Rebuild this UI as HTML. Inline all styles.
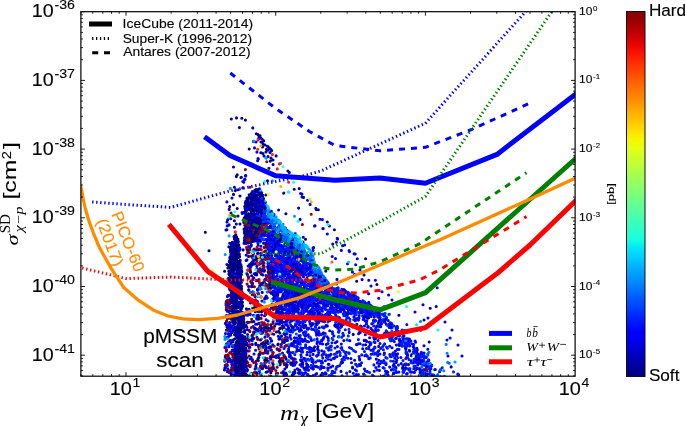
<!DOCTYPE html><html><head><meta charset="utf-8"><style>html,body{margin:0;padding:0;background:#fff;width:685px;height:426px;overflow:hidden}svg{display:block;will-change:transform}text{font-family:"Liberation Sans",sans-serif;stroke:#000;stroke-width:0.12px;paint-order:stroke}text[style*="Serif"]{stroke:none}</style></head><body>
<svg width="685" height="426" viewBox="0 0 685 426">
<defs><clipPath id="pc"><rect x="80.9" y="11.7" width="494.20000000000005" height="364.5"/></clipPath>
<linearGradient id="jet" x1="0" y1="1" x2="0" y2="0">
<stop offset="0%" stop-color="#000080"/>
<stop offset="2.5%" stop-color="#00009b"/>
<stop offset="5%" stop-color="#0000b6"/>
<stop offset="7.5%" stop-color="#0000d6"/>
<stop offset="10%" stop-color="#0000f1"/>
<stop offset="12.5%" stop-color="#0001ff"/>
<stop offset="15%" stop-color="#0019ff"/>
<stop offset="17.5%" stop-color="#0031ff"/>
<stop offset="20%" stop-color="#004dff"/>
<stop offset="22.5%" stop-color="#0064ff"/>
<stop offset="25%" stop-color="#0081ff"/>
<stop offset="27.5%" stop-color="#0099ff"/>
<stop offset="30%" stop-color="#00b1ff"/>
<stop offset="32.5%" stop-color="#00cdff"/>
<stop offset="35%" stop-color="#00e5f8"/>
<stop offset="37.5%" stop-color="#16ffe1"/>
<stop offset="40%" stop-color="#29ffce"/>
<stop offset="42.5%" stop-color="#3cffba"/>
<stop offset="45%" stop-color="#53ffa4"/>
<stop offset="47.5%" stop-color="#66ff90"/>
<stop offset="50%" stop-color="#7dff7a"/>
<stop offset="52.5%" stop-color="#90ff66"/>
<stop offset="55%" stop-color="#a4ff53"/>
<stop offset="57.5%" stop-color="#baff3c"/>
<stop offset="60%" stop-color="#ceff29"/>
<stop offset="62.5%" stop-color="#e4ff13"/>
<stop offset="65%" stop-color="#f8f500"/>
<stop offset="67.5%" stop-color="#ffde00"/>
<stop offset="70%" stop-color="#ffc400"/>
<stop offset="72.5%" stop-color="#ffae00"/>
<stop offset="75%" stop-color="#ff9400"/>
<stop offset="77.5%" stop-color="#ff7e00"/>
<stop offset="80%" stop-color="#ff6800"/>
<stop offset="82.5%" stop-color="#ff4e00"/>
<stop offset="85%" stop-color="#ff3800"/>
<stop offset="87.5%" stop-color="#ff1e00"/>
<stop offset="90%" stop-color="#f10800"/>
<stop offset="92.5%" stop-color="#d60000"/>
<stop offset="95%" stop-color="#b60000"/>
<stop offset="97.5%" stop-color="#9b0000"/>
<stop offset="100%" stop-color="#800000"/>
</linearGradient></defs>
<g clip-path="url(#pc)">
<g stroke-width="3.1" stroke-linecap="round" fill="none"><path d="M231.3 119h0m5.2-1.1h0m5.3 .4h0m3.6 1.8h0m-6 7.4h0m13.4 .4h0m3.5 5.9h0m1.7 .7h0m1 2.5h0m1.1-1.1h0m.7 2.1h0m1.2 1h0m1.7 1.8h0m-2.7 1.2h0m1.5 5h0m.5-3.3h0m.2 .5h0m1.8 .8h0m2.5 1.3h0m.4 .2h0m-18.7 2.5h0m11.6 3.8h0m.3-.1h0m4.9-.7h0m.5-2.7h0m1.5 .7h0m1.3-2.1h0m.7 4.6h0m.7-3.2h0m1 1.3h0m-13.7 7.9h0m.3 .5h0m4.7-5.5h0m1 2.5h0m4 .5h0m3 1.5h0m5.1-2.1h0m-5.8 5.2h0m2.7-1.1h0m.1 4.6h0m-39.6 2.4h0m35.4 1.2h0m19 2.8h0m-51.6 5.6h0m.9-1.9h0m8.5 .9h0m43.6-3.2h0m-48.3 5.1h0m.4-.2h0m2.4 4.9h0m.9-2.8h0m22.8 1.4h0m-33.1 6.5h0m8.4 .6h0m.1-.1h0m56.3 .8h0m-65.7 5.8h0m1.8-3.8h0m2.9-.9h0m45.5 3.5h0m.1-.2h0m10.4-3.7h0m7.7 4.8h0m-69.9 3.9h0m8-2h0m25.9-1h0m36.1 2h0m1.5 .4h0m-73.8 9.2h0m3.8-1.9h0m-4.3 4.7h0m8-.9h0m61.4-.4h0m17.2 .3h0m.5 1.2h0m2 .1h0m-87.3 3.3h0m7 3h0m47.9-2.2h0m-58.9 8.2h0m7.4-1.3h0m1.9 3.3h0m3.7 0h0m60.1-4.6h0m27.2 2.6h0m-101.3 8h0m.9-.3h0m7.5-2.5h0m80.2-1.2h0m14.8 0h0m5 3.7h0m-129.1 2.6h0m28.7 4.3h0m2.3 1.9h0m101.3 .6h0m-107.9 4.1h0m4.7 1.8h0m79.2 2.6h0m29-1.9h0m-133.6 5.1h0m156.6 8h0m-1.6 16.2h0m12.9 9.5h0m7.1 22.4h0m52.2-.4h0m-37.3 8.7h0m30.3 26.8h0m28.7 32.1h0" stroke="#00009b"/>
<path d="M258.7 138.7h0m-5.3 2.7h0m2.6 .6h0m-1.5 5.9h0m2.4 4.2h0m.7 8.7h0m-12 15.1h0m-2.8 5.6h0m2.1-2.1h0m55.7 14.1h0m7 6.7h0m-80.7 1.7h0m83.2 2.5h0m12.3 15.2h0m-7.4 6.2h0m7.9 2.8h0m.3 0h0m4.1 5.4h0m-24 3.3h0m33.1 4.9h0m.8-3.8h0m-4.5 5.7h0m11.9 .9h0m-3.3 5.4h0m7.8 .2h0m.4 1h0m4.6 2.3h0m1.1 .1h0m-23 2.5h0m3.3 2.1h0m21.8 .2h0m-9.8 5h0m8.2 1h0m-3.3 7.2h0m7.6-2h0m-23 9.4h0m31.8 .8h0m6.6 0h0m-4.4 5.8h0m66.2 1.8h0m-68.6 6h0m13.4-2.1h0m6.6 3.3h0m-19.8 7.4h0m9.9-4.1h0m13.3 1.7h0m31 4.8h0m-8 7.2h0m13 6h0m17 4h0m7 8h0m-5 10h0m11 5h0m-10 11h0m14 0h0" stroke="#0000f1"/>
<path d="M253.8 141.3h0m12 16.7h0m.3 .3h0m14.7 4.9h0m-8.4 17.6h0m-42.1 7.6h0m58.4 3.6h0m5.8 24.3h0m160.5 145.7h0" stroke="#0099ff"/>
<path d="M258 139.9h0m-.3 9.4h0m14.7 5.3h0m7 9.3h0m-2.1 5h0m11.3 13.4h0m-53.3 49.6h0" stroke="#ff1e00"/>
<path d="M260.8 145.8h0m20 40.7h0m30.4 15.3h0m-81.5 13.6h0" stroke="#ffae00"/>
<path d="M266.8 161.8h0m-21.4 7.8h0m4.5 17.6h0m61.3 27.1h0m-8.8 10.2h0" stroke="#9b0000"/>
<path d="M283 166.8h0m-48.2 44.9h0" stroke="#53ffa4"/>
<path d="M264.6 181.5h0m28.9 .8h0m-4.9 9.8h0m-60.2 26.3h0m69.7 2.8h0m30 3.6h0m78.5 81.7h0m31.4 23.5h0" stroke="#16ffe1"/>
<path d="M268.2 194.6h0m-55.7 76.4h0m185.9 20.7h0" stroke="#e4ff13"/>
<path d="M309.7 198.9h0" stroke="#a4ff53"/>
<path d="M305.5 239.3h0m20.3 31.8h0m104.4 37.2h0" stroke="#000080"/>
<path d="M331.9 262.1h0" stroke="#ff6800"/>
<path d="M295.3 233.3h0m125.2 88.2h0m25.7 22.9h0m.9 8.9h0m.6 9.1h0m-3.9 8.3h0" stroke="#0081ff"/>
<path d="M278.6 210h0m34.4 38.1h0m41.5 26.3h0m-18 9.6h0m113.6 54h0m-40.7 1h0m5.7 2.1h0m.4 1.1h0m12.3 7h0m-3.8 3.9h0m15.6 18.7h0m18.5 2.8h0m.5 .2h0" stroke="#0001ff"/>
<path d="M320 219.2h0m-7 31.4h0m43.7 30.7h0m5.4-1.7h0m61.9 40.4h0m0 25.8h0m27.2 21.1h0m-10.8 2.8h0" stroke="#0000b6"/>
<path d="M416.6 324.7h0" stroke="#00e5f8"/>
<path d="M388.3 314.6h0" stroke="#29ffce"/>
<path d="M348.6 262h0" stroke="#00cdff"/>
<path d="M428.9 352.3h0m20.4 11h0m-4.3 13.7h0" stroke="#0064ff"/>
<path d="M389.3 314.2h0m8.1 12.3h0m9.4-1.9h0m-4.7 5.5h0m18.7 0h0m21.4 37.6h0m16.2 7.9h0" stroke="#0019ff"/>
<path d="M427.7 354.1h0m.2 1.2h0m12.2 15.3h0m4 5.8h0" stroke="#004dff"/>
<path d="M385.1 313.3h0m68.4 58.6h0" stroke="#0031ff"/>
<path d="M404.5 330.5h0" stroke="#0000d6"/>
<path d="M267.6 227.5h0m-.7 6.6h0m.9 .3h0m.1-1.2h0m6 2.4h0m2.7 .7h0m-6.2 4.1h0m.1-2.6h0m.9 .9h0m3 .4h0m.7-.1h0m-6.6 5.2h0m1.4 4.4h0m2.1-5.4h0m1.3 5.6h0m.3-4.7h0m1.8-.6h0m.4 1.6h0m2.7-1.3h0m.3 4.1h0m.3 .5h0m2-1.9h0m2.1 1.1h0m-12.1 4.8h0m1.4-2.6h0m.9 .7h0m.7-1.2h0m.4 .1h0m.5 1.2h0m2.7 1h0m4-2h0m1.3 3.5h0m.3-3.2h0m.6 4.4h0m1.5-1.6h0m.1 .2h0m.4 .2h0m.1 1.1h0m1.6-1.3h0m.1-.7h0m.1 2.4h0m.2 .3h0m.1-5.9h0m1.2 2.2h0m.8 2.9h0m-22.4 4.7h0m10.5 .2h0m2-.2h0m2.1-3.5h0m1.2-.2h0m3.7 3.2h0m2.2-.6h0m.7-1h0m2.3 2.8h0m1-.9h0m1.8-.1h0m3-1.4h0m-30.3 4h0m6.9 4.9h0m.4-2h0m1.2-1.1h0m.6 .8h0m3.4-.1h0m.1 .1h0m.9 1.4h0m.8 1.9h0m1-5.4h0m.6 4.9h0m2-5h0m2.2 5.2h0m3.5-3.8h0m1.3-1.1h0m.9 4.5h0m.9-4.7h0m1.5 3.2h0m3.4 .1h0m.2-.5h0m-31.1 5.6h0m2.9-.8h0m.2-1h0m.4-.8h0m3.9 4.1h0m4.8 .2h0m3.3-.5h0m.9-3.2h0m.1-.2h0m.2 4.6h0m1.5-3.9h0m1.2 4h0m2.7-4.5h0m3.6 1.3h0m7.5 1.3h0m1.3-2.4h0m1.3 2.3h0m2.2-2.3h0m.5 2.6h0m.6-.8h0m2.9-.4h0m-36.4 7.5h0m5.8-.3h0m2.2 .1h0m2.9-1h0m.4-1.6h0m3.3 2.6h0m1.1-1.7h0m3.5 2.9h0m.4-2.5h0m1-1h0m.4-.9h0m4 4h0m.8 0h0m0-2.9h0m.7-.2h0m2.3 1.1h0m.8-2.4h0m1.3 .9h0m2 3.3h0m1.4-3.9h0m2.5 2.7h0m1.1-.1h0m-42.8 5.2h0m.4-1.5h0m3.7 3h0m.7 .8h0m.8-2h0m1.6-1.6h0m.9-.4h0m.7 5.1h0m.8-4.4h0m.1 3h0m.5-1.5h0m1.7 .3h0m1.2-1.2h0m5.8 1.7h0m0-2.9h0m1.1 1.4h0m.8 0h0m.2 1.4h0m.9 .4h0m1.4-2.1h0m1.1 3.4h0m1-4.9h0m1.9 4.8h0m1.8-3.2h0m1.2 .6h0m1.6 3h0m4.1-.3h0m4.8-.9h0m.1-1.7h0m-38.2 4.4h0m2.6 1.6h0m3.1 1.6h0m1.7-3.5h0m1 4.6h0m1.8-1.5h0m2.1 .2h0m2.1 1.6h0m.2 .2h0m2.7 0h0m0-3.8h0m.6 .6h0m4.4 2.2h0m.2-1.7h0m0-2.8h0m2.2 0h0m2.1 3.6h0m2 .8h0m3.5-2.8h0m11.7 .8h0m.6-.8h0m18.9 3.4h0m8.9-.3h0m-70.9 3.8h0m.2-.6h0m1.2 1.9h0m1.1-3.5h0m1.5 .6h0m2.2-.6h0m.8-.7h0m.8 .7h0m1.7 3.2h0m2.9-.1h0m.3-3.7h0m.3 2.3h0m1.5-.1h0m.4 2.3h0m.8 .8h0m4-1.6h0m1.9-.5h0m.6-2.9h0m1.3 1.5h0m.6 1.4h0m1.3 1.1h0m.4-1.4h0m1-.2h0m.9-2.1h0m2.6 2.3h0m8.2 .7h0m3.1-2.3h0m7 .6h0m1.3 .4h0m14.4-2.2h0m.3 1.7h0m.5-.6h0m.3-.9h0m.8 3h0m2.4-3.3h0m1.7 1.6h0m2.3-1.1h0m1.1 5.1h0m6.6-.5h0m-78.4 2.9h0m1.2-2h0m2.4 3.7h0m.6-1.1h0m.5 1.9h0m1.4-.7h0m.6 1.8h0m0-.6h0m2.7-1.2h0m1-2h0m.4-1.7h0m1.3 1.6h0m.3 1h0m.1 3h0m3.1-5.2h0m.7 4.6h0m3.4-3h0m0 2.8h0m2-2.7h0m1.7 2.7h0m2.7 .1h0m1.8-3h0m.7 1.4h0m2.3 .5h0m0-2.3h0m1.8 3.8h0m2.3-2.4h0m1-1.4h0m2.9-.7h0m4 4.7h0m.5-5h0m.4 5.2h0m2-3.8h0m0-1.2h0m.8 .2h0m1.5 .8h0m4.3 2.4h0m1.3-2.4h0m.4 3h0m.9-4.3h0m1.7 1.8h0m1.5 .3h0m1.6 .9h0m2.3 .9h0m1.5-4.4h0m.2 3.3h0m.2-.1h0m.9-1.8h0m1.2 2.8h0m.9-.1h0m1.6-2h0m3.6 1.8h0m1.9-1.7h0m1.4-1.4h0m1.5 2h0m1.8-1.7h0m.5-.4h0m.5 4.1h0m.1-3.2h0m3.1 3.8h0m.2-.2h0m1-.3h0m.4-.6h0m-83 5.8h0m1.5 .2h0m1.3-3.6h0m.4 1.7h0m.1 1.4h0m2 1.3h0m.3-5h0m6.4 2.3h0m1.5 2.5h0m5.2 .1h0m1.8-2h0m1-2.2h0m.2 .4h0m1.2 .2h0m2.3-1h0m1.3 3.8h0m1.7-3h0m.8 4.6h0m.2-4.6h0m2.6 .8h0m1.2-.1h0m.8 .6h0m4.7-1.2h0m.2 3.9h0m.2-2.3h0m8.9 1.2h0m.1-2.8h0m6.9 2.8h0m1.1 .3h0m3-4.2h0m.2 2h0m.8-2.2h0m.1 4.3h0m1.8-3.9h0m.2 1.1h0m.7 3.3h0m8.9-3.3h0m2.5-1h0m1.1 4.4h0m.6-.2h0m.7-.3h0m.3-2.4h0m2.7-1.4h0m2 2.6h0m.7-.7h0m3.3 2.3h0m.2 1h0m.3-.4h0m2.9-5.3h0m1 4.4h0m1.8-3.2h0m-89.6 7.2h0m7.3-1.7h0m.8 3.2h0m.6-3h0m.3 3.3h0m.2 1.1h0m.8-4.2h0m.6 3h0m.1-1.6h0m2.7-1.8h0m1 .2h0m.1 .3h0m.7-1h0m1.3 2.1h0m.4 .9h0m1.7 .3h0m.9-3.4h0m5.1 3.2h0m7.5-1.2h0m.2 2.9h0m1.9 .6h0m1.1-2h0m5.7 1.4h0m7.2-.7h0m.5-.2h0m.1-2.3h0m3.7 .5h0m2.4-.9h0m.3-.6h0m.1 1.6h0m1.2 2.9h0m2-3.7h0m6.9 1.3h0m11.6-2.6h0m12 .8h0m.3 1.2h0m3 1.3h0m.6 2.2h0m6.2-1.7h0m.8-2.1h0m1.2 2.8h0m-99.3 3.9h0m3.4-.6h0m.3 .9h0m1.9 2.7h0m1.6-4.2h0m.6 2.9h0m5.2 .4h0m.7-4.5h0m3.9 .9h0m.3 2h0m.1-.3h0m.1 .5h0m4.4 .8h0m2.6-1.8h0m.6-1.8h0m.1 3.3h0m3.9-1.3h0m3-1.9h0m2.2 4.5h0m1.5-.8h0m7.5-1.4h0m2.1-1.9h0m4.2 .3h0m24.2 4.2h0m1.8-1.7h0m1.4 1h0m.7-4.6h0m4.5 2h0m3.1-.3h0m4.3-.7h0m.5-1.2h0m1.9 5.1h0m6.7-2.9h0m4.6-1.7h0m-102.5 10.9h0m.3-4.7h0m12.4 3.9h0m7-3.9h0m1.1 4.9h0m2.6-.9h0m10.6-1.2h0m.5-1.1h0m6.8 3.3h0m33.2-2.6h0m7.7 1.6h0m15.6-1h0m1.1-.8h0m5.1 .1h0m7.3 1.5h0m2.8 1h0m-111.5 5.9h0m.8-2.2h0m1.5-.4h0m12.2 1.2h0m4.7-3.5h0m9.6 1.7h0m2.5 3.1h0m13.5-1.8h0m19.5 1.6h0m15.3-.6h0m11.2-.4h0m2.6-1.1h0m12.8-2.4h0m8 4.3h0m-114.2 2.3h0m2.3 3.4h0m7.3-.1h0m11.3-2.3h0m3 1.4h0m2.2 2h0m6.1 0h0m2-5.5h0m6.1 .2h0m18 1.6h0m31.2-.9h0m12.2 .3h0m7.7-1.4h0m3.5 2.2h0m1.5-1.2h0m3.6 3.9h0m.6 .3h0m-101.7 1h0m1 1.5h0m2-1.6h0m12.2 4.1h0m9.3 1h0m17.5-3.8h0m16.3 3.2h0m5.5-3.6h0m25.1 .5h0m8.9-1.5h0m1.1 3h0m1.5 0h0m1-1.6h0m3.9 .7h0m1.3 3.3h0m.5-5.1h0m2.8 4.2h0m-118 2h0m3.4 3.5h0m.6 1.2h0m12.1-.4h0m1.7 .1h0m1.1 .7h0m1-2.4h0m.9 2.2h0m3-1.5h0m.6 .5h0m.3 .7h0m60.3-3.9h0m0 4.3h0m11-4.4h0m23.5 .5h0m2.9 3.2h0m.3-.1h0m.9 .1h0m-124.5 2.6h0m8.5-1.1h0m5.6 3.2h0m3.2-2.4h0m8.1 2.6h0m19-2.9h0m6.6 5h0m21-1.3h0m9.6-1.6h0m16.3 2.7h0m15.3-4.7h0m5.4 3.4h0m.4-1h0m2.6-2.4h0m2.7 1.1h0m-123.3 9.4h0m.2-3.9h0m8.2 2.5h0m.2-1.4h0m.3 3.1h0m1.2-4.6h0m1.3 .6h0m2.9 .4h0m18.4-2h0m1.6 1.9h0m2.9 .6h0m16.7-1.5h0m3.2 .3h0m3.7 1.7h0m21.7-1.2h0m7.4 1.5h0m29 2.4h0m1.9-3.6h0m.6 2.9h0m1.5-4.4h0m2.2 .4h0m7.4-.8h0m-126.2 7.3h0m2-1.2h0m.3 2h0m1.5 2.7h0m3.7-3.3h0m10.8 2.3h0m9.5 .7h0m.4-3.7h0m67.7 3.6h0m7.6 .8h0m1.3-.2h0m11.1-.8h0m1.6 .9h0m.1-3.7h0m-109.5 5.3h0m4.9-1.2h0m27.9 2.4h0m12.3 1.8h0m33.7-1.7h0m6.9 1.8h0m26.6 .1h0m4.2-1.9h0m-122 3.6h0m6.2 2.8h0m1.6-1.4h0m2.7-.9h0m7.7-.3h0m12.7 1.5h0m1.6 0h0m18.9 1h0m.3-1.5h0m66.4 0h0m13-1.2h0" stroke="#0000f1"/>
<path d="M266 221.7h0m2.5 1.4h0m1.1-.6h0m.5 5.1h0m2.8 .8h0m.1-2.2h0m.4 4.2h0m-.7 1.1h0m1.5 .3h0m5 2h0m.1 1.6h0m-11.4 4.5h0m4.5 1.3h0m3.8-1.3h0m.5-2.7h0m2.6 2.1h0m1.7 2.4h0m3.1-1.2h0m1.3 1.7h0m.1-.4h0m.9-1.5h0m-14.7 8.4h0m2.3-5.4h0m10 2.3h0m.9-1.6h0m2.2 4.6h0m.7-1.5h0m.9-4h0m2.5 1.8h0m.3 4h0m.8-3h0m-16.1 4.1h0m1.1-.9h0m5.7 4.3h0m8.1-4h0m.8 4.9h0m1-.7h0m.3-1.7h0m.1-.8h0m1-.2h0m1.1 .5h0m1.3-2.1h0m2 1.2h0m3.7 4.2h0m-27.1 1.4h0m3.9-.9h0m3 .6h0m.9 3.4h0m2.2-.1h0m2.6 .9h0m.3 .5h0m5.3-1.5h0m4.7-2.6h0m2.3-1h0m2.2 3.6h0m.5-3.6h0m1.8 3.1h0m.2-2.4h0m.3 4.2h0m-36.5 5.2h0m21.9 .2h0m11.5-4.2h0m1.7 3.1h0m1.6-2.8h0m.8 3.3h0m.7-1.3h0m3.4 1.6h0m1.3 1.5h0m1.6-3.1h0m-24.3 8.4h0m.3-2.8h0m19.8 0h0m.9 1.4h0m4.2-2.1h0m1.2-.7h0m-44.9 5.5h0m11.3 3.2h0m1.6-1.7h0m4.6 2h0m10.7-3.9h0m9.7 1.1h0m5.6 .5h0m3.2-1.5h0m.8 3.4h0m.8 .1h0m.1 1.2h0m2.7-1.8h0m.6 1.8h0m2.3 1h0m-51.2 .7h0m3.8 5h0m2.1-1.3h0m17-3.7h0m.5 3.7h0m4.6-3.3h0m.1-.1h0m14.9-.6h0m1 1.4h0m.4-1.5h0m.4 4.2h0m2.7-1.9h0m1 2.8h0m.2-.9h0m.3 .2h0m.7-1.8h0m.4-.2h0m.6 2.9h0m.4-2.2h0m1.2 1h0m.6-2.7h0m.5 2.3h0m.3 .3h0m0-1h0m-52.6 5.7h0m4.3 .9h0m4.2 1h0m4-4.1h0m7 4.2h0m13.4-.6h0m10.3 .5h0m1-4h0m1.8 1.4h0m.5 3.4h0m.7-3.7h0m2 .7h0m.5-.7h0m.2 .1h0m1 .8h0m1.3 2.6h0m.2-.4h0m0-4h0m.6 4.9h0m1.5-.4h0m.2-3.1h0m1-.7h0m1.1 2.6h0m1.4 .6h0m-58.1 4h0m1.9-.3h0m16-.7h0m3.1 1.7h0m.7-.6h0m25 .9h0m.9-.2h0m.1-2.6h0m2 .4h0m.9 2.2h0m1.1 .7h0m2-.9h0m.6-2.8h0m.7 2.9h0m2.3-3.2h0m.3 .3h0m.5 4.5h0m9.5 .5h0m5.1-4.1h0m.7 1.3h0m3.5 1h0m3.5 1h0m-82 2.9h0m7.9 2.5h0m8.6 1h0m20.7-3.7h0m4 3.8h0m13.5 .2h0m.1-3.6h0m.5-.7h0m.4 3.5h0m.1-1.8h0m.8 1.5h0m.2-1.4h0m8.7 1.5h0m.1-1.6h0m.1-2.1h0m.6 3.8h0m1.3-2.8h0m.1-.1h0m1.6 1.4h0m1.9 2.6h0m.7-3h0m.9-1.3h0m2 4.4h0m.9-4.5h0m1.3 3.6h0m3.9-3.4h0m3.5-1h0m1.9 5h0m4.3 .2h0m-79.4 4.4h0m1.3-.6h0m4 1.8h0m13.7-3.8h0m.8-1.4h0m.9 2.2h0m2.7-1.7h0m17 2.9h0m.9-3.4h0m5 4.7h0m.6-4.6h0m9.1 3.2h0m1.2-3.5h0m.4 4h0m.5-.7h0m.5-1.6h0m.1 2.9h0m3.3-3.3h0m.8-.1h0m1.2 1.6h0m3 .3h0m.3-.5h0m2 3.1h0m4.4-4.4h0m1.4 3.7h0m.6-5h0m3.4 3.1h0m1.3 .6h0m3.2-1.3h0m3.4 .5h0m-89.4 6.7h0m7.3-1.8h0m17.9-.5h0m13.5-.4h0m4.8 4.8h0m2.7-4.7h0m17.4 3.9h0m4.7-.8h0m3.9-3.8h0m1.7 2.6h0m.9-.3h0m1.4 .9h0m2.5-3h0m1.8 3h0m6.1-1.5h0m8.4 3.4h0m1 .5h0m2.9-.8h0m-83.7 1.4h0m24.8 .6h0m.4 .8h0m1.8 .2h0m4.9-1.9h0m2.3 3.2h0m6.9-1.3h0m1.1 .5h0m10.7 1.6h0m8.9-1h0m19.7-2.6h0m4.8 3.7h0m.1 .5h0m2.8-2.3h0m-99.7 5.5h0m10.1-1.7h0m22 1.2h0m9.2-.5h0m7.6 .6h0m6.6 .8h0m24.2-1.2h0m7.1 .2h0m4.8 2.2h0m9.4 1h0m4.9 .4h0m-103 5.5h0m2.8-2.9h0m.2 3.5h0m14.7-3.5h0m8 1.9h0m1.8-1h0m21.8 2.8h0m10.2-2.9h0m24.6 2.6h0m5-5h0m16 5.7h0m-94.2 2.8h0m9.8 1.5h0m14.6-1.6h0m7.4 3h0m16.1-2.5h0m43.6 2.9h0m4.4-.8h0m6.5-1.4h0m-83.3 5.5h0m2.2-2.1h0m11.3-.3h0m14.1 .2h0m23.9 3h0m35.3 2.1h0m-112.3 1.3h0m11.5 1.1h0m21.1 .5h0m57-2.6h0m-94.2 11.3h0m6.6-4.9h0m33.8 4.5h0m10.3-3.1h0m33.1 .8h0m.1-2.7h0m34.3 3h0m2-2.9h0m10.3 4.7h0m3.9-1h0m-114.7 5.1h0m2.8 1.4h0m10.6 1.4h0m5.1-4.8h0m14.3 1.5h0m28.4-1.7h0m15.4 4.9h0m1.4-4.6h0m3.6 2.8h0m20.2 1.8h0m3.3-3.2h0m10 3.2h0m-133.4 .8h0m61.7 3.5h0m3.2-2.9h0m30.4-.8h0m6.8 5.2h0m17.1 0h0m3.9-2.3h0m8.6-1.6h0m6.1 2h0m2 1.3h0m1.1-3h0m0 .6h0m-133.5 7.3h0m17.2 1.6h0m7.9 .1h0m33.3-3.7h0m37.2-1.2h0m1.6-.2h0m.4 1.3h0m7.1 1h0m3.6 2.3h0m3.9-2h0m10.7-1.8h0m.1 3.7h0m9.1-.2h0m-111.8 3.4h0m10.8-1.6h0m2.9 0h0m40.2-.5h0m13.5 2.4h0m32.9-.1h0m9.3 .2h0m14.1 0h0" stroke="#0031ff"/>
<path d="M265.6 217.5h0m.1-.6h0m.2 1.4h0m2.7-.5h0m.4 .7h0m.5 2.8h0m1.6 3h0m.9 .5h0m.5-2h0m-2 3.3h0m5.2 2.8h0m2.2-1.5h0m1.6 2.8h0m1.8-.4h0m-8.9 2h0m5.8 4h0m.7-2.5h0m1.4 3h0m1.4-1.9h0m.2 .8h0m.4-3.5h0m.7 1.3h0m1.9 3.1h0m.7 .7h0m4.7-1.2h0m-8.5 1.9h0m.1 3.9h0m0-1h0m1.6-1.6h0m1.8 3.8h0m1.2-5.3h0m5.9 3.7h0m.2-.9h0m-6.4 3.9h0m4-.1h0m2.6 3.4h0m.2 .7h0m.2-3.1h0m.3 1.8h0m.4 1.6h0m1.1 .3h0m2.7-3.9h0m-20.8 9.5h0m2.7-2.5h0m14.8-.1h0m1.6-2.5h0m2.1 2.1h0m2 1.6h0m2.3-.2h0m0 1h0m3.9-.5h0m2.4 6h0m1.3 0h0m-17 6h0m17.9-1.8h0m2.4 2.8h0m-23.2 6h0m21.7-2.2h0m3.3-2.5h0m4.2 5.6h0m1.2-.2h0m-7 .6h0m2.2 2.1h0m2.5-.8h0m.3-1.1h0m.2-.2h0m.8 2.6h0m1 2.4h0m1.6-3.6h0m1 4.1h0m.4-.4h0m.1-2h0m-3.4 7h0m.5-3.3h0m.4-1.1h0m.2 5.1h0m.3-2.7h0m4.1-1.4h0m2.4 2.5h0m.4 1h0m-58.1 1.6h0m49.3 .6h0m4.1 .5h0m3.4 1h0m5.8 6.4h0m.8 1.5h0m10.2-2.1h0m-57 9.8h0m25-5.5h0m15.5-.3h0m.5 .9h0m-20.7 9.4h0m5.3 .2h0m59.9 .7h0m-76.5 1.7h0m21.2 0h0m54.5 2h0m-88.9 5.1h0m67 4.1h0m-63.6 10.6h0m37.5-4.3h0m68.2 3.7h0m-95.6 2.8h0m28.6 .7h0m64.6 3.5h0m-75.2 1.7h0m89.5 2.4h0m-74.2 4.5h0m1.6 3.1h0m92.7 15.1h0m5.4 2.4h0m-123.7 1.9h0" stroke="#004dff"/>
<path d="M260.7 191.3h0m10.7 20.1h0m-2.5 3.3h0m4.7 1.5h0m-.4 5.1h0m-4 6.7h0m4.6-2.7h0m.8 .9h0m10.9 1.9h0m-18.6 6.2h0m.2 .2h0m.9 1.2h0m2.2-1.7h0m4.2-.4h0m1.6 1.3h0m7.9-2.5h0m.5 2.5h0m3.5-3.4h0m2.3 3.8h0m-17.4 4.3h0m1.5 1.4h0m18.3 1.7h0m.2-1.9h0m10.2 1.2h0m-35.7 4.5h0m4.6 0h0m19.7 .8h0m0-2.9h0m-23.8 4.6h0m1 1h0m4.2 .4h0m.6-.2h0m1.8 3.9h0m4.7-2.4h0m8.2-.7h0m7.4 3.3h0m1.2-.9h0m-27.9 5.6h0m3.5 .1h0m4.3-3.5h0m1.4 3.7h0m.8-2.9h0m6 4.5h0m3.9-4.3h0m5.7 1.2h0m2-2.5h0m-23.6 9.4h0m3.4 1.4h0m1.5 .4h0m3.6-5h0m8.5 4.2h0m1.6 .1h0m3-.2h0m-25 6h0m.1 .9h0m.1-2.8h0m2.4 2.4h0m3.5 .3h0m3.8-.1h0m1.6-.6h0m.4-3.1h0m1.5 .7h0m.3-1.9h0m17.9 4.4h0m4.3 0h0m-34.9 6.3h0m2.6-3.8h0m7.8-.6h0m.1-.2h0m1.3 2.8h0m5 1.4h0m1.5-3.7h0m20.5 .4h0m1.6 1.6h0m3.5 3h0m3.4-4.1h0m-40.6 7.2h0m5.6 2h0m3.1 .2h0m20-3.2h0m6.3 1.8h0m-34 6.7h0m13.8 1h0m2.1-3.4h0m10 .3h0m.9 3.4h0m7.6-3.4h0m18.9-.5h0m5.8 3.2h0m-60.1 3.5h0m13.5 2.9h0m.7 .1h0m5.5-3.8h0m8.9 2.8h0m15.4-1.3h0m1.3 2h0m5.8-4.2h0m5.9 1.3h0m.3-.2h0m8.8 .7h0m-43.3 8.4h0m2.4-.1h0m2.1 .6h0m1.1-1.7h0m2.2-3.1h0m1.9-.6h0m16.3 1.6h0m7.2 2.4h0m9.1-1.5h0m-63.6 9h0m43-1h0m6.6-4.1h0m8.6 2.8h0m11.8 .2h0m3.5-3.6h0m2.7 1.7h0m3 2h0m1.9 .9h0m2.4-4.8h0m-80.8 11.1h0m15-4.6h0m25.7 5.1h0m14.3-4.1h0m11 3.9h0m.8-5h0m11.8-.3h0m13.1 .9h0m1.6 3h0m-95.6 5h0m3.9-.5h0m3.7-1.6h0m31.5 2.2h0m51.2-3.1h0m-87.6 7.5h0m2.5-.4h0m21 3.2h0m17.1-4.1h0m19 5.2h0m19.1-.4h0m16 .1h0m4 .6h0m-92.8 2.3h0m5.4-1.6h0m8.2 2.7h0m17.8-2.4h0m81.8 4.6h0m-5.4 6.1h0m12.2 .3h0m-42.2 5.9h0m8.8-5.5h0m34.1 1.1h0m-109.3 10.1h0m110.2-.2h0m7.5-2h0m-32.5 4.8h0m8.3 1.1h0m3 1.7h0m25.6-2.2h0m-128 5.6h0m123.9 1.9h0m-114.5 3.5h0m14 2.1h0m35.9 1.3h0m-58.7 5.9h0m121.7-3.8h0m-54.6 7.7h0" stroke="#00009b"/>
<path d="M266.1 223.3h0m.4 .5h0m0-1.9h0m-.4 4.5h0m.5 1.1h0m-.4 6.9h0m1.5-1.6h0m.8-.2h0m.5 1.5h0m1.2-2.6h0m3 3.4h0m-7 4.5h0m.7 .6h0m.1 1.1h0m2-.2h0m.1-.9h0m.7 2.5h0m.6-3.4h0m1.3 .4h0m.4-.4h0m1 1.6h0m1.2-2.1h0m.6-.7h0m3.3 4.8h0m1.1-.1h0m-10.6 4.6h0m1.1-.6h0m.6-3h0m3 2.2h0m1.9-.5h0m.4-.1h0m1.1-1.4h0m1.5 4.4h0m.1-2.3h0m3.5 1h0m.9 1h0m2.5-4.8h0m3.5 3.1h0m2.1 2.5h0m2.8-.7h0m-25.8 4.2h0m.1 .9h0m.4-1.8h0m.8-1.9h0m.4 4h0m1.2-2.4h0m1.5 .7h0m.4-1.1h0m3.2 .5h0m2.3-.4h0m.8 3h0m1.1-3.7h0m.9 2.2h0m1-.4h0m.2 .8h0m.3-1.7h0m.8 0h0m.3-.1h0m.2 1.9h0m.7-2.9h0m1.2 3.5h0m.4-2.4h0m1.1 .5h0m.4 2.3h0m.8-.7h0m.6 .5h0m2.8-.5h0m7.8 1.7h0m-32.2 3.3h0m1.1-2.6h0m2.1 3.2h0m.6 2.1h0m.3-3.2h0m.4-2h0m1.9 4.1h0m2.8 .9h0m.4 .4h0m.2-.1h0m2.3-3.8h0m.6-.6h0m2.2 1.2h0m0 3.1h0m1.5-5.6h0m.9 3.8h0m1.3-.7h0m1.6 1.9h0m.6-1.4h0m2.1-.4h0m.8 2.1h0m2.8-2.9h0m.5-2.2h0m.5 1.2h0m5.1 2.9h0m.1 .7h0m0 .2h0m-32.2 3.2h0m.5 2.8h0m2.7-.5h0m.1-.3h0m.8-3.5h0m.8 2.1h0m0-.4h0m.5 1.9h0m.1-3.4h0m2.2 2.1h0m0-2.5h0m2 1.6h0m.5 .4h0m2 .9h0m1.3 .6h0m2.5-2.1h0m1.8 .3h0m.7 1.1h0m2.7-.8h0m1.4 2.7h0m1.2-2.7h0m.2 1h0m.3 .5h0m.4 .6h0m.2-4.1h0m.2 4.8h0m.1-5.3h0m0 4.3h0m1.3-4.1h0m.5-.3h0m.6 3.4h0m.4 0h0m.4 2.2h0m.6-3.5h0m2.2 3.4h0m1-.6h0m0-.4h0m1.4 .5h0m.5 .7h0m1.7-3.8h0m.2 2.3h0m.2-.1h0m.1-3.4h0m.1 2.7h0m1.8 1.4h0m.6 1h0m1.6-3.1h0m-40.2 3.6h0m.6 4.9h0m.1-4.3h0m.6 4.7h0m.2-4.5h0m1.1 2.2h0m.7-1.5h0m.3 1.5h0m.2-.1h0m2.2 1h0m1.6-3.5h0m.1 4.6h0m.2-2.6h0m.4-2.2h0m0-.3h0m.1 2.3h0m.1 2h0m1-.9h0m.2-.1h0m.8 .7h0m1.2-3.6h0m1.2 1.6h0m1.3-1.1h0m0-1.3h0m.8 1h0m.2 1.9h0m2.4 1.3h0m.5 1.6h0m.2-3.8h0m0-.3h0m.9 .6h0m3.3 .5h0m3.6-.7h0m.1 .5h0m.6 .9h0m.4-1.1h0m1.2 1.5h0m.2-3.5h0m.8 .9h0m.3 4.6h0m.1-4.3h0m0 3.2h0m.5-.6h0m.8-2.5h0m.7 0h0m2.3 3.5h0m2.6-1h0m.3-2.1h0m.1-.9h0m.5 1.4h0m.1-.5h0m4.3-.7h0m1.2 4.1h0m-42.6 2.2h0m2.1 4.2h0m2.2-4.3h0m0 3.4h0m.6-1.3h0m.3-.2h0m1.7 .7h0m1.4 1.5h0m0-2.9h0m3.3 .2h0m.4 .1h0m1.3 2.6h0m0-3.4h0m1.3 .3h0m1.3-1.1h0m3 4.4h0m.3-1.5h0m.3-.2h0m1.5 .1h0m1.8 .4h0m.4-1.2h0m.9-1.6h0m0 1.4h0m.5 1.1h0m1.6-.5h0m.7 1.9h0m.1-.1h0m1-2.1h0m.8 .4h0m.2 .2h0m.4-2.1h0m.1 3h0m.8-4.4h0m3.3 .2h0m3.7 .9h0m3.1 1.5h0m1.4 1.6h0m-40.4 5.2h0m1.8 .7h0m.8-3h0m.1-1.7h0m.5 1h0m1.4 3.3h0m2.9-3h0m.5-1.3h0m1.2 .7h0m.3 .6h0m2.2 1.8h0m.3-1.8h0m.1 1h0m.3-1.5h0m3.7 4h0m.2 .9h0m.7-4.6h0m.3 2.6h0m.3 1.6h0m.1 .1h0m1-2.9h0m.6 0h0m1.5-.4h0m2 2h0m.1 1h0m3.2-4.7h0m.7 .1h0m.4 3.7h0m.8-3.9h0m4.9 2.9h0m.2 .3h0m0 1.7h0m2-2.7h0m.1-.6h0m.5-1.2h0m2.3 4.4h0m1.2-3.6h0m1.1 .2h0m.2 2.5h0m.7-1.5h0m.1 .9h0m.5-.9h0m.5-.6h0m.3 3.7h0m.2-1h0m2-1h0m2.1-1.5h0m-46.6 6.1h0m3-.9h0m1.2 0h0m.5 .8h0m2.8-2.4h0m.3 .2h0m.5 4.7h0m.8-1.2h0m.7-.3h0m.8 .2h0m3.9-2.7h0m.3 4h0m1.7-4.3h0m.3-.3h0m1.3 5.3h0m.5-.9h0m1.3-3.8h0m.8 1.9h0m.9 2.9h0m.7-3.9h0m0-1.6h0m1.8 5.2h0m.1-1.2h0m1.7 1.4h0m2.1-.1h0m2-.1h0m0-4.2h0m.4 3.8h0m.6-.5h0m.4-.7h0m.8 1.4h0m2.9 .7h0m1.3-2.1h0m.7-3.5h0m.2 4h0m2.4 0h0m1.6 1.6h0m1.3-4.6h0m.6 4h0m.2-.6h0m1.5-2.7h0m.2-1.9h0m4.3 3.2h0m1.1 .2h0m5.5-1.1h0m.9 3.4h0m1.8-.3h0m7-1.8h0m1.5 1h0m.5-2h0m0 2.8h0m-65.3 .9h0m1.5 4.4h0m1.1-4.3h0m1.1 4h0m.4 .1h0m2-3.7h0m4.8 1.8h0m1.1 2.6h0m0-3.2h0m.3-2h0m.1 4.7h0m1.3-.9h0m0-1.8h0m.8 1.1h0m1 .7h0m.4-2h0m2.3-1.8h0m.3 4.5h0m.5-1.5h0m.8 2.6h0m2.5-4.1h0m.6-.6h0m.7 4.4h0m1.4-.1h0m1-4.2h0m1.7 4h0m0-.3h0m.3-4h0m.4 4.3h0m.6-2.3h0m2.5-.4h0m1.1-.1h0m1.4 3.4h0m1.5-1.8h0m2-1.4h0m.3-.4h0m1.9 2.9h0m.2-4.8h0m.2 .9h0m1.5 .6h0m.2 3.6h0m.3-3.7h0m.2-.9h0m.2-.4h0m.2 4.7h0m.6-1.4h0m.9-1.7h0m1.3 1.2h0m1.5-1h0m1.5-.7h0m3.7 .5h0m.2 1.2h0m2.6-3.1h0m4.4 5h0m1.9 .9h0m.5-2.2h0m1.9 .2h0m.4-.7h0m1.3-1.3h0m.1 1.5h0m.4 1.2h0m1-1h0m.2-3.6h0m0 1.5h0m1.2 3.3h0m.3-2.5h0m.1-.2h0m1.1 2.6h0m1-3.3h0m1.4 4.5h0m3-2.5h0m.3-1.8h0m1.7 3.4h0m.4-1.7h0m1.5 .9h0m3.5 1.5h0m-82.6 2.5h0m4.4 3.4h0m1.2-2.8h0m0 2.2h0m1-.4h0m.6-2.9h0m1 3.1h0m2.5-.2h0m1.4-2.5h0m.5 .7h0m.3 1.7h0m4.4-.6h0m0 1.2h0m2.6-3.2h0m1.7-.1h0m1.5-.5h0m.9-.7h0m2 4.7h0m.3 .5h0m.2-5.2h0m.1 5.3h0m1-2.9h0m.5-.8h0m.7 2.1h0m1.1-2.4h0m.7-1.6h0m.7 4.7h0m1-.2h0m.3 .6h0m1.1-1h0m1-1.3h0m1.3-1.4h0m1.2 3.7h0m.3-3.1h0m.6 .3h0m0 1.9h0m3.5-2h0m1.5 .2h0m.3-.5h0m.2 1.5h0m2-.9h0m.5-.7h0m1.6 3.4h0m.6-2.1h0m3.3 .1h0m2-1.6h0m.4 1h0m1.7 2.8h0m1.6-4.3h0m.3 2.3h0m.3 .3h0m1-2.1h0m.3-.7h0m1.3-.2h0m.3 2.4h0m1.1 .4h0m.7-.9h0m.2 2.4h0m1 .6h0m1.1-1.1h0m1.1-4h0m.1 3.3h0m1.2 1.5h0m.6-5.6h0m.1 3.7h0m0-2.1h0m.2 3.8h0m.5-3.1h0m.3-1.4h0m.5-.7h0m1 .8h0m0 .3h0m2 1.9h0m1.1-1.4h0m.3 2.1h0m1.8-2.5h0m.1 1.1h0m.5 3h0m.9 0h0m1.8-.2h0m1.5-4.6h0m1.4 2h0m3.3 1.4h0m.2-3h0m1.4 3.8h0m.9 1.1h0m1.6-.5h0m0 .3h0m.7-2h0m-85.3 8.2h0m1.9-3.2h0m1.1-2.6h0m.1 1h0m.6 2.1h0m.3 1.1h0m6.3-2.5h0m.6 .5h0m0-2.2h0m1.2 1.6h0m2.3 1.9h0m0-3.5h0m.9 3.6h0m.5-1.5h0m.6 2h0m.5 .6h0m.2-3.2h0m1.8 2.1h0m.2 1.3h0m2.1-3.5h0m0 2h0m.6-2h0m.8-.5h0m.8 .3h0m.1-.9h0m1.1 1.5h0m1.1 3.6h0m1-3.8h0m.5-.2h0m1.4 .1h0m1.2 3.4h0m1.6-3h0m1.2-2.1h0m1.1 2.4h0m1.5 3.1h0m.7-4.3h0m.2 1.7h0m2.4-1h0m1.7-1.4h0m1.3 4.5h0m.3-1.7h0m.9 2.3h0m3.1-4.1h0m.1 3h0m0-.3h0m.1-4.1h0m0 1.8h0m.1 1.5h0m.9-1.2h0m.5 2.6h0m1.8-1.9h0m.9-2.8h0m.2 2.6h0m.5-2.3h0m2 5.6h0m.5-1.4h0m.5-2.7h0m.1-.5h0m.2-1h0m2.5 .8h0m.2 3.8h0m1.8-2.6h0m1.1-.4h0m0-1.6h0m.1 .2h0m.5 2.5h0m.2-1.8h0m2.3 4.5h0m1.6-.5h0m3.2-4.5h0m1.1 4.3h0m0-4.5h0m1.1 3.5h0m.4 1.7h0m.4-5h0m.2 1.8h0m.2-2.2h0m.1 1.4h0m.8 1.4h0m2.5-.6h0m1.3-2.5h0m.9 .5h0m.4 .5h0m.1 .4h0m2.1 4h0m0-3.9h0m.3-.7h0m.5 .9h0m.3-.8h0m.2 2.2h0m.3-3.1h0m0 2.4h0m.9-.9h0m1.4 2.8h0m.4 .8h0m1.2 .7h0m.2-5.7h0m1.2 1.3h0m1 2.5h0m2-2.1h0m4.2 3.2h0m0-.4h0m.7 1.2h0m4.1-.1h0m-99 2.8h0m1 0h0m.6 1.1h0m.2-.9h0m1.1 3.1h0m1.6-.7h0m.3-2.7h0m.9-1.3h0m.6 2.9h0m1.3-3.6h0m1.6 3.8h0m.8 1.3h0m5.2-3.5h0m.7-1.5h0m1.2 1.3h0m.9 3.8h0m3.2-3.6h0m2.7 1.6h0m3.1-3.4h0m2 2h0m.2-1h0m.3 .7h0m2.4 1.2h0m.2 .3h0m1.6 .6h0m0 .9h0m.4-3h0m.3-1.1h0m1.6 2.1h0m.1-1.3h0m.2 4.2h0m.6-4.7h0m1.4 3.2h0m1.2-3.9h0m.7 0h0m.2 .6h0m.5 .4h0m.5 3.6h0m1.4-1.9h0m2.7-3.1h0m.2 2.2h0m3.1-1.9h0m.9 5h0m1.6-1.6h0m.8-.8h0m.1 2.6h0m.9-.5h0m1.4-2.1h0m2.6 .6h0m.2-3.3h0m6.7 2.3h0m3.3-1.3h0m3.8 1.7h0m2.6-1.7h0m.5-.7h0m.6 1.2h0m1.7 1.7h0m1.1-2.9h0m.2 4.2h0m1.2-4.7h0m4.3 3.3h0m.6-1.7h0m.3-.9h0m.7 2.9h0m.2-1.1h0m0-.9h0m1.5 1.1h0m1.2-2.7h0m.6 5.4h0m.2-2.5h0m.6-1.4h0m.5 .8h0m.1-1.7h0m1.2 4.2h0m.8-2.1h0m.3 1.5h0m1.7-1.4h0m.5 .8h0m.2 .3h0m.2 1h0m3.4-4.3h0m.9 .5h0m.3 3.9h0m.1-3.1h0m1.7 1.2h0m.8 .7h0m-98.9 3.4h0m.3 4.3h0m.5-4.2h0m.9 2.4h0m.5-1.8h0m1-1.9h0m4 5.7h0m2.2-2.3h0m1.7 1.1h0m.9-.9h0m2.1 .5h0m3.1-2.5h0m.2 3.7h0m1.2-1.6h0m1.5-3.8h0m2.6 1.5h0m1 1.6h0m2.2-.1h0m.2-1.5h0m2.3-1.4h0m.7 .8h0m.1-.1h0m1.8 2.9h0m2.5-.2h0m2-1.6h0m2.5-1.5h0m1.5 4.8h0m.7 .5h0m.2-.9h0m5-4.8h0m.6 3.2h0m2-1.6h0m.5-1.2h0m.8 3.5h0m.3-1.6h0m.7 3.3h0m.3-1.9h0m6.1 .2h0m9.4-3.2h0m2.7 2h0m5.4-.9h0m.2 0h0m.2 .5h0m2.4 1.4h0m2-.9h0m.2 .2h0m3.8-2.1h0m.5 3.6h0m.8-.8h0m1.3 2.1h0m.3-4.5h0m1.2 4.5h0m1.7-5.6h0m.3 1.3h0m0 1.1h0m6.8 3h0m2.2-3.6h0m1.2-1.8h0m.7 5.1h0m6.5-2h0m2 2.3h0m-106.4 .5h0m2.1 5.9h0m3.6-1.4h0m2.4-3.1h0m6 2.5h0m3.3-.4h0m.3-2.9h0m.3 .9h0m3.6 1.7h0m1.2-3.1h0m5 .2h0m.5 2.5h0m1 2.4h0m1.8-2.4h0m2.4 3h0m8.8-5.3h0m2 4.6h0m11.7-1.7h0m0-3.2h0m.1 4.7h0m1.2-2.3h0m4-1.8h0m6.3 1.9h0m3.6 3.2h0m13.5-3.1h0m1.7 2.7h0m3.6-2.8h0m6.6-1.1h0m5.5-.7h0m1.1 .3h0m5.5 .4h0m1.2 .8h0m-109.5 4.1h0m6.3-.1h0m1.3 2.6h0m1 1.3h0m.1-.9h0m6.6-2.9h0m5.9 5.3h0m5.2-4.5h0m3.1 .8h0m20.7 2.7h0m5.3-3.8h0m1.5 2.5h0m1.2-3h0m19.8 5h0m10.7-4.2h0m1.5 2h0m2.5 .3h0m.9-2.3h0m11.2 3.7h0m2.3-4.7h0m7.6 .7h0m.7 3h0m-113.7 2.6h0m3.2 4.2h0m3-.8h0m.2-2.1h0m.7 4h0m5.6-1h0m3.4 0h0m4-3.9h0m1.2 2.1h0m.2-2.9h0m11.1 1.8h0m.5-1.1h0m2.2-.5h0m4 5.4h0m4-2.1h0m1 1.5h0m5.6-2.4h0m4.7 1h0m20.1-3.2h0m11 4.1h0m4.1-.2h0m1.8 1h0m8.1-3.7h0m1-1.7h0m1.2 2.5h0m5 .8h0m1.8-.6h0m5.8-1.7h0m1 1.8h0m4.5-.2h0m2.4 3.1h0m-118.8 1.5h0m2.5 4.6h0m1.7-1.5h0m.8 .2h0m2.1-2.8h0m2.4 .3h0m1.2-.4h0m1 2.4h0m3.2-1.9h0m2.7-1.4h0m3.4 1.9h0m3-1.3h0m6 1h0m2.6 2h0m1.6-2.6h0m.9 3.1h0m.4-4.5h0m5 4h0m7.4-.8h0m1.6-1.1h0m4.3 2.5h0m8.2-3.6h0m.3 .3h0m6.6 3.8h0m.5 .1h0m1.4-.9h0m5.9-3.4h0m2.5 1h0m2.7 .9h0m.9 2.5h0m.3-.2h0m4.4-2h0m3.1-2.1h0m1.9 3h0m14.3-1.9h0m6.7 3.1h0m.8 0h0m1.5-4.5h0m.9 .7h0m.2 .6h0m.7 1.5h0m1.6-2.4h0m.4 3.9h0m.3 .3h0m.6-4.5h0m.4-.3h0m1 1.6h0m1.5-.5h0m2.7 3.5h0m-127.5 1.2h0m2.5 3.1h0m.1-3.8h0m.5 1.2h0m7.2 .8h0m.9-.3h0m3.4 .9h0m1.1 1.5h0m1.1-1h0m5.9 .3h0m1.8 .5h0m4.2-2.2h0m7 3.9h0m6.8-.6h0m.5-1.5h0m2-2.3h0m.2-.3h0m6.1 .6h0m25.3 2.2h0m6.1-2.1h0m2.2 3.6h0m2.5-1.2h0m1.2-2.1h0m17.3 .8h0m4.3-2.8h0m1.7 4.2h0m7.7-2.6h0m3.7-.9h0m.3 .3h0m4.2 1.2h0m.1 2.6h0m-125.3 1.2h0m.5 2.1h0m.3 3.2h0m11.5-1.5h0m1.7-2.9h0m4.7 .4h0m3.5-.8h0m2.2 2.9h0m3.6 1.7h0m2-3.6h0m3.6 2.4h0m1.2-1.1h0m.6-2.1h0m1.9 3.1h0m2.7 .5h0m2.2-.9h0m6.1 2.2h0m2.3-5.1h0m19.8 5h0m8.3-.2h0m3.7-2h0m6.6-2.2h0m.1 3.5h0m2.1-1.6h0m9.9 .5h0m4.1-1.2h0m1.5-2.2h0m10.8 2.3h0m.2-.7h0m1.1 2.8h0m5.9-1h0m.9-3.4h0m.8 1.1h0m.8 3.7h0m2-.4h0m3-2.1h0m.4 .6h0m.1-1.6h0m.5 1.8h0m2.8 2.3h0m-132.7 1.6h0m3.3 1.2h0m1 2.9h0m4.3-2.3h0m5.3 1.1h0m5.6-2.6h0m.8 3.2h0m1 1h0m6.2-1.9h0m2.1 .6h0m3.8-.5h0m26.1 1.9h0m8-4h0m.2 1.3h0m9.1-1.3h0m8.6 4.2h0m1.4-2.6h0m14.6 1h0m1.4-3.1h0m1.9 2.1h0m4.2-2.8h0m4.9 1h0m.8-1.1h0m.6-.2h0m4 3.5h0m4.5-2.4h0m.1 1.1h0m1 3.2h0m3-2.4h0m1 .2h0m.1 0h0m3.2 1.4h0m3.4-.2h0m1.3-1.2h0m-137.5 4h0m2.4-1.1h0m1 1.6h0m.5-1.1h0m2.2 4.9h0m4.3-2.5h0m6.1 1.3h0m.7-.7h0m2.9 1.2h0m1.7 .7h0m.3-1.9h0m8.1-3.8h0m2.7 4.5h0m3.8 .7h0m1-4h0m1.5 3h0m2.2-1.1h0m3.9 1h0m2.9-1.4h0m25 3.3h0m11.4-1.5h0m3.9-3.8h0m3.3 3.9h0m2.8-3h0m3.8 2.5h0m5.6-.4h0m5.9-3.1h0m1.4 4.9h0m2.1-4.2h0m.9 .7h0m.2 3.1h0m19-2.8h0m1.1-1.5h0m4.9 4.9h0m0-1.9h0m-131.1 7h0m.2-3.4h0m3.3 3.1h0m2.3-1h0m1.1-3h0m1.3 5h0m8.7-.9h0m5.6-.3h0m2.8 .1h0m7.3-2h0m1.4 1.3h0m16.2-1.2h0m5.4-1.8h0m.9 4.9h0m2.2-.1h0m5.2-.5h0m3.6-2.4h0m12.2-1.2h0m6.1 .7h0m5.9-1.1h0m2.4 3.1h0m2.7-.6h0m2.3-.4h0m5.6-1.8h0m2.9 3.2h0m2.3-3.5h0m2.3 2.1h0m2.5 .3h0m5.7-.1h0m.2-2.1h0m3.2 3h0m.2 1.7h0m3-.6h0m.1-3.3h0m1.1 3.1h0m-125.8 2.5h0m7.6 0h0m38.5 .9h0m15.2-.3h0m24.7-2h0m4.3 2.7h0m32-.3h0m2.3-1.9h0m14.2 1.4h0" stroke="#0001ff"/>
<path d="M265.7 218.5h0m.6 .1h0m.4 .3h0m-.2 4.6h0m.3-1h0m1.7 .3h0m-1 4.2h0m4.4 .9h0m-4.8 7.7h0m2.6-1.7h0m.4-2.4h0m.9 .8h0m.9 4.4h0m.9-3.6h0m1.7 .1h0m.3 2.8h0m.3-4.5h0m1.2 4h0m.5-1h0m.4 1.3h0m-8.9 1.6h0m1 2.3h0m.1 .9h0m1.5 .8h0m.2 .7h0m.8-4.5h0m5.7 .1h0m1 2.7h0m.3-.6h0m.3 2.2h0m.1-4.9h0m.1 2.1h0m-11.2 8.3h0m.7-.9h0m.3-3.3h0m1.1 5.4h0m3.8-2.1h0m.1-2.7h0m.9 3.3h0m.5-1.9h0m2.3 3.6h0m1.6-2.7h0m.3 .1h0m1-.6h0m5 .1h0m.3 3h0m.7-2.1h0m.7-.4h0m2.6 1.5h0m.8-.2h0m.3-.7h0m2.4 2h0m-24.8 2.9h0m1.9 2.8h0m2.8-2.3h0m1-1.9h0m.5-.3h0m.9 2.4h0m.5 .8h0m.8-3.6h0m.9 .9h0m.4-1h0m1.4-.5h0m1.6 .5h0m.2 3.1h0m.2-2.2h0m2.6 .9h0m3.3-.8h0m1 3.8h0m2.1-4.6h0m.3 3h0m.2-2.2h0m.1-.2h0m.9-.1h0m.2 4.6h0m3.2-1.5h0m.5-.4h0m2.1 1h0m.1-.8h0m2.1 1.5h0m-29 3.3h0m.3 1.7h0m.7-1.3h0m3.5 .4h0m1 1.8h0m.4-2.3h0m.6 2.5h0m.7-4.1h0m2.6 3h0m.3-.3h0m1.6-2.5h0m.5 3h0m.4-.4h0m2.8-4.3h0m2 .2h0m.7 .6h0m0 2.8h0m4.8-2.3h0m3.6 2.4h0m.8-.9h0m.3 .8h0m1-2.7h0m.5 3.1h0m.2-2.7h0m.6 3.2h0m2.2 1h0m2.2 .2h0m.9-2.9h0m-38.2 7h0m.3-3.3h0m.4 2.3h0m.8 2.4h0m3.3-4.6h0m4.2 3.7h0m.2-1.3h0m2.6-2.9h0m.5 1.5h0m0-.1h0m2.6-1.2h0m.1 5.3h0m.7-2h0m2.1 2.1h0m2.2-5.6h0m0 1.8h0m4.6-2.1h0m.3 1.4h0m1.9-.7h0m1.4 .1h0m1.7 1.1h0m4.2 2.1h0m2.1 .4h0m.5 .3h0m1-2.3h0m2.2 .3h0m2 .8h0m.9-3.1h0m-42 6.3h0m3.9 .8h0m.4 1.2h0m1-2.3h0m.7 5.1h0m2.1-3.3h0m.8-.5h0m.2-.4h0m5.3 2.9h0m.3-.1h0m1-3.2h0m2 5h0m1.7-2.6h0m0-1.6h0m5.3 .4h0m4.3-.5h0m2.2 4.3h0m.4-4.8h0m3.7 2.4h0m4-2.1h0m0-.6h0m3.1 4.5h0m1.1-.5h0m-43.8 6.5h0m2.2-1h0m.4 .8h0m4.1 .4h0m2.2-4.9h0m3 1.6h0m2.3 1.9h0m5.2-1.5h0m.7 1.4h0m.2-1h0m.4 2.6h0m.8 .4h0m2.7-.6h0m1.3-3.7h0m.2 1.1h0m.8-.4h0m.1-.2h0m.9 2.9h0m2.9-5h0m11.6 2.4h0m1.4 1h0m-42.6 3.3h0m3 4.6h0m1.2-1.8h0m2.1 .9h0m.1 .8h0m.7-4.5h0m.9 2h0m1 .2h0m2.2 2.6h0m.2-1.8h0m.4-.9h0m1.9 1.4h0m1.5-3.9h0m0 .7h0m1.3 2h0m6 .7h0m3.5-1.8h0m2.9 .3h0m1.5-.2h0m2.8 2.9h0m.5-1.6h0m.6-.4h0m2.6-.8h0m.7-1.8h0m7.8 1.9h0m1.3 .8h0m1.6-.2h0m2.4-1.4h0m.4 2.7h0m.6-1.8h0m-46.7 8.7h0m.7-.6h0m1.4-1.8h0m1.4-2.5h0m.6 3.2h0m2.2-3.1h0m.7 4.3h0m.6-.3h0m.2-2h0m1.2-1h0m.3 .2h0m.1-.8h0m3.7 3.1h0m.4 2h0m.7-4.4h0m1.7 4.2h0m.5-4.7h0m2.3-.2h0m1.6 2.5h0m2.9-2.7h0m.8 4.5h0m.2 .5h0m.5-4.8h0m4.9-.1h0m.8-.3h0m.9 1.2h0m1.7-1h0m2.3 2.2h0m.2 1.7h0m1.6-.9h0m.7 2.4h0m1.6-5.4h0m0 2.6h0m.5-1.1h0m3.3 1.2h0m1.1-1.6h0m1.6 2h0m3.3-1.5h0m.5-1.8h0m.3 2.8h0m.1-1.3h0m.4 4h0m.4-2.5h0m.1 .4h0m1.2 1.8h0m.9 .3h0m.1-5.7h0m.7 2.4h0m.3-2h0m.2 5.2h0m1.4-3.4h0m.3-.2h0m.8 1h0m0 .5h0m1.9-.1h0m.1 1.9h0m.3-.7h0m.7 .8h0m2.3-2h0m.7-.2h0m0 2h0m4-1.1h0m.7 1.4h0m1.3-.9h0m.6 .4h0m-73.5 2.9h0m3.7 2.4h0m1.8-2.8h0m1.5 2.1h0m7.1-.7h0m5.7 2.2h0m1-2.4h0m1.6-2.2h0m2.1 1.4h0m3.2 3.9h0m1.7-.2h0m2.4 .2h0m1.4-3.5h0m.2-.9h0m.1 1.1h0m.1 2.6h0m2.5-2.6h0m3.3 3.1h0m.6 .3h0m.7-3.8h0m.2 .3h0m2.1-2.2h0m.6 .3h0m1.7 1.1h0m1.2 3h0m.3-3.8h0m2.9 3.1h0m.8-3.9h0m.2 .8h0m2.9 4.3h0m.4-.3h0m.1-.4h0m.4-3.2h0m0-.1h0m.6 3h0m.3 0h0m.3 .8h0m.1-2.2h0m1.8 .7h0m1.8 2.1h0m.5-.6h0m1.3-4h0m.1 4.3h0m2.4-2.7h0m.4 2.4h0m.9 .8h0m.7-4.1h0m2.5 3.4h0m0-3.5h0m.4 1.7h0m.9-2.8h0m1.6 .7h0m.2 .9h0m.2 .1h0m.5 1.5h0m.1-3h0m1.2 4.7h0m.3-.1h0m.5-4h0m4.6 1.6h0m6.4 2.8h0m-82.7 4.1h0m2.6-2h0m1.1 2.2h0m.6-3.9h0m1.8 4.9h0m1.1-1.9h0m.1 2.2h0m1.4-4.6h0m5.3 2.6h0m1.5-2.7h0m.5-.4h0m4.2 .7h0m1 3.1h0m.4-3.7h0m1 4.8h0m2.7-4.5h0m1.4 1.2h0m3.7 .7h0m.4-.1h0m1.5 2.4h0m1.1-4.1h0m1.5 2h0m.8-1.9h0m2.4 4.6h0m.1-4.3h0m1.4 2.7h0m1.3-2.8h0m1.7 .8h0m4.1 1.9h0m1.6 .9h0m3.8 1.1h0m.6-5h0m.6 .4h0m1.2 4.3h0m.5-.2h0m0-2.8h0m1.3 .5h0m.8 1.2h0m.2-3.8h0m.7 .9h0m1.6 1.2h0m0 2.9h0m.2 .7h0m.4-.9h0m.1-3.5h0m.2 .6h0m.2 3.7h0m.3-.7h0m.1 .3h0m.4-1.9h0m2.6-3.3h0m1 1h0m.3-.3h0m1.4 .9h0m.9 1.3h0m1.2-2.2h0m1.1 2.1h0m.8-1.4h0m.7 .6h0m0 .9h0m1.6 2.3h0m1.3-5.1h0m.2 3.3h0m.3-1.1h0m2 2.4h0m.4-4.3h0m0 1.2h0m1 3.7h0m.1-3.3h0m0-.3h0m.9 1.2h0m.4 1.1h0m.4-4h0m1.1 1.5h0m.1-1.1h0m1 1h0m2.2 .5h0m4.4 2.6h0m2.3 0h0m-87.6 5.8h0m2.6-1.5h0m.8-2.3h0m.4 0h0m4.8 .4h0m.4 3.5h0m.6-4.2h0m0 .2h0m.2 .9h0m2.6 3.7h0m2.4-3h0m4.8 1.5h0m4.9-1.7h0m.7 .1h0m1.7 3.4h0m1.4-1.3h0m1.8-.6h0m2.1-2.7h0m3.1 .6h0m1 .7h0m.5-.5h0m5.1 1.8h0m.8 1.4h0m4.6-.5h0m9.5-4.2h0m2.5 1.6h0m1.8-1.3h0m2.2-.1h0m.3 .5h0m.8 .2h0m1.5 3.3h0m.5-4.3h0m.6 5.4h0m.5-2.5h0m1.6 .1h0m.8 0h0m1.5-2.3h0m.8 3.1h0m2.1 .6h0m3.2-.6h0m1.6-3.2h0m2.8 3.8h0m.7-.9h0m.1 .9h0m1.4-2.1h0m.2-1.9h0m2 5.3h0m.3-3.4h0m1.8 2.9h0m.6 .5h0m1-.6h0m.3-4.7h0m2.8 1.3h0m2.6 2.9h0m.6 1.1h0m-96.8 .1h0m2.7 5.7h0m3.1-5.7h0m4.8 2.8h0m0-2.5h0m1.6 2.8h0m1-2.1h0m1.6-.2h0m1.1 3.8h0m1.7-1h0m.3 1.7h0m.6 .1h0m5.8 .2h0m1.2-4.1h0m1.1 3.2h0m1-3.2h0m4.9 3.5h0m1.6 .8h0m2.1-4.5h0m1.5-.7h0m2.7 1.3h0m4.1 3.9h0m6.4-1.4h0m4.5-3.3h0m.9 2h0m2.2-2.4h0m.8 2h0m2.7 .6h0m2.4-1.2h0m2.5 2.8h0m8-3.4h0m.1 3.2h0m2.3-1.9h0m1.8 2.7h0m.6 .3h0m3.5-1.8h0m4.9-1.6h0m5.1 .4h0m1.2-.6h0m.2-1.5h0m1.3-.4h0m.6 3.6h0m1 .3h0m1.3-.2h0m.9-2.2h0m6.7 3.2h0m.2 .9h0m-100.4 .2h0m4.6 1.2h0m1.6 2h0m2.1-.5h0m6.3-2.2h0m1.4-.4h0m.5 4h0m.1-3.1h0m3.3 2.6h0m2.3 .1h0m2.1 .8h0m.7-2.4h0m.2 1.5h0m3.4-.8h0m5.1 2.4h0m1.9-3.7h0m2.5-.1h0m6.2 2.5h0m.1-.9h0m1 1.2h0m6.7 .1h0m1.3-3.4h0m2 3.2h0m1.5 1.5h0m0-2.6h0m3.6 2.8h0m.8-5.2h0m2.3 3.9h0m.8-2.2h0m6.7 2.3h0m11.5-4.2h0m2.2 2.6h0m.7-1.6h0m.5 .2h0m5-1.7h0m3 .2h0m4.5 5.1h0m.5 .3h0m2.7-4.7h0m2.1 1.5h0m.2 1.9h0m-106.5 2.5h0m10.6 3.3h0m4.9-1.2h0m2-.7h0m3.2 3.2h0m1.1-4.3h0m1-.8h0m2.1 .3h0m6.8 2.1h0m.4-.4h0m3.3 3.7h0m.1-3.3h0m2-1.4h0m.1-.5h0m6.8 0h0m11.6 3.4h0m6.8-2.6h0m3.5-1h0m5.9 3.9h0m9.2 1.2h0m12.2-.8h0m1.2-4.7h0m14.3 2.9h0m1.7 2.7h0m.6-2.8h0m-106.4 5.4h0m8.4 1.1h0m.6-.5h0m1.2-.2h0m5.4-2.2h0m4.1 4.1h0m1.1 .2h0m.8-4.1h0m9.4 3.3h0m2.7 .1h0m3.3-4.1h0m1.4 5.7h0m.5-4.8h0m14.5 3.8h0m6.8-2.1h0m40.9 1.1h0m5.8-3h0m3 4.7h0m.2 .2h0m.8-5.3h0m.3 1.3h0m0 .9h0m1.2-1.3h0m-111.7 5.2h0m1.2 .4h0m17.2 .6h0m15 .6h0m2.3-.5h0m11.1-.9h0m9.2 3.5h0m1.1-3.8h0m.5 2h0m21.9-.7h0m6.7-1h0m17.4 2.1h0m.6-2.7h0m0 5.7h0m.2-5.5h0m2.4 3.1h0m9.6-3h0m-107.6 9.2h0m2.4 .6h0m.9-4.2h0m2.1 1.8h0m.2 .6h0m.1 2.9h0m5.3 .4h0m1.3-3.3h0m21.5-1h0m3.6 2.4h0m26.4-3.2h0m15.8 2.4h0m10.4 1.9h0m6.8-3.2h0m1.3-.7h0m6.3 4.1h0m0-4.6h0m2.3 1.5h0m.8 .4h0m2.4-.9h0m1.3-1.3h0m1.2 .3h0m.5 3.2h0m1 .7h0m-115 1.9h0m2.3 1.5h0m1.3-.6h0m8.5 .3h0m1.3 1.7h0m2.6-.9h0m1.5 2.8h0m19.9-3.4h0m4.1 1.3h0m5.9 0h0m.8-.5h0m.5 2.2h0m7.3-2.1h0m2.1 1h0m2 2h0m9.5-5.5h0m3.3 3.4h0m2.5 .3h0m6.1-1.1h0m5.6 .7h0m1.9-1.7h0m.9 3h0m3.2-2.7h0m.8 1.2h0m9.8 1.3h0m1.8-.1h0m.7-4h0m1.5-.4h0m1.1 1.3h0m2.5-1.1h0m.4 .6h0m.2 2.1h0m.5 1.6h0m1.1-3.2h0m1.6-1h0m5.4 3.9h0m1.7 0h0m-125.9 3.6h0m.6 2.4h0m2.2-2.7h0m2.2 2.1h0m6.5 2.2h0m1.1-5.1h0m7.6 3.9h0m6.8 .2h0m5.3-.6h0m12.3-.9h0m2.1-1.1h0m3.7 2.2h0m3.8-3.9h0m1.5 2h0m.4 1.7h0m.3-2.8h0m2.7 .5h0m.3 .5h0m6.4-1.6h0m6.1 3.1h0m2.8-3.4h0m1.7 3.2h0m9.1-1.4h0m1.5 .9h0m7.3 .5h0m6.1 1.4h0m2.8 0h0m0-2.7h0m.3-.7h0m3.5 2.8h0m.9-1.7h0m8.7-1.5h0m7-.6h0m.2 3.9h0m.2-.8h0m2.5-1.4h0m1.9 1.1h0m1 1.6h0m2.2 .2h0m2.5-.3h0m-118.4 4.3h0m6-1.1h0m1.5 .7h0m2.7 2.2h0m2-1.4h0m4.4 1.4h0m.6-4h0m12.8-1h0m5.9 5h0m1.2-2.8h0m1.8 .4h0m1.3-2.2h0m15.9 5.3h0m19.4-1.6h0m.4 1.6h0m1.6-.5h0m1.5 .7h0m1.3-5.4h0m10.3 4.9h0m1.6-4.7h0m5.3 2.7h0m4.5-3.1h0m1.5 2.2h0m5 0h0m.3 1.5h0m3.3 .9h0m.7-3.3h0m3-1.6h0m1.7 2.9h0m.7-.1h0m.5-2.2h0m4.4 2.1h0m-125.9 6.7h0m8.6-1.3h0m2.1 .4h0m2.4 .6h0m4.8 2.6h0m.5-2.7h0m2.5 1.4h0m14.2-1.2h0m3.1-2.8h0m14.9 .7h0m1.4 2.1h0m2-2.1h0m.2 1.2h0m14.5-.5h0m10.3 3.3h0m9.8-4h0m4.5 .9h0m7.5-1.4h0m1.9 5.2h0m5.9-.1h0m.9-.4h0m.2-2.3h0m4.4 2.8h0m1.2-5.1h0m5.8 1.8h0m1.7 .4h0m.9 2.8h0m1.9-2.2h0m-137.7 6h0m1.8-2.5h0m6.9 2.6h0m1.7 1.6h0m1.3-4.5h0m2.1 4.5h0m1.7-4.3h0m11.7-1h0m4.9 3.8h0m2.7-2.5h0m3.7 3.5h0m1.1-2.2h0m2.2 .8h0m1-3.2h0m.1 0h0m10.6 3.9h0m18.7-2.1h0m2 .7h0m2.3 .8h0m0 .1h0m7.4-2.7h0m8.9 3.7h0m17.6-1h0m0-2.8h0m6 .4h0m12.2 .1h0m.3 2.3h0m1.8-3h0m0 2.3h0m2.5-2.1h0m3.7 3.9h0m0-2.3h0m-121.2 5h0m2.5 .9h0m30.7-1.4h0m31.6 .3h0m9.1 0h0m1.4-.1h0m31 1.8h0m11.1-1.1h0m4.4-1.5h0m3.9 1.4h0m1.4 .2h0m4.1-.1h0" stroke="#0019ff"/>
<path d="M260.5 191.5h0m4.4 15h0m.3-1h0m1.7 4.5h0m.4-.1h0m.6-1.9h0m1.3 3.8h0m-2 5.1h0m3.7-1.8h0m.4-1.3h0m.3 .8h0m.1 .3h0m1.3 3h0m.2 .6h0m1.2-.6h0m-1.8 2.3h0m.4 .5h0m.1 .9h0m.9 .2h0m.1 1.1h0m1 .6h0m1-2.9h0m.4 1h0m.9 .3h0m1.6 2.3h0m.4 3.8h0m2.3 2h0m4.4 .8h0m-5.4 5.2h0m2.1-2.6h0m.5-1.1h0m.6-.3h0m1.3 2.8h0m.4-1.7h0m1.9 1.9h0m4.4 1h0m-3.3 5.7h0m0-2.2h0m1.1-1.2h0m1.4 2.5h0m.9-.3h0m.6-1.8h0m1.6 3h0m.8 .8h0m.2-5.3h0m1.7 2h0m0 7.8h0m1 0h0m1.5-.4h0m1.7-1.6h0m.1 3.5h0m2 .1h0m-1.5 4.3h0m1.8-1.8h0m.3 1.3h0m.4-2.9h0m.8 4.1h0m3.7-1.9h0m.8-1.8h0m1.5 2.1h0m-6.9 4.9h0m4.1 .7h0m1.7-2h0m.6-.3h0m1.5 2.4h0m.8-1.6h0m.4 3.4h0m.3 6.3h0m.5-4.1h0m1.9 3.8h0m-.9 6h0m.1-1.7h0m1.7 1.7h0m.9-1.1h0m1.3-2.5h0m1.2 2.2h0m1.1 2.4h0m2.1 4.4h0m82.2 63.9h0m24.6 22.5h0m2.7 11.5h0m1.6-5h0m-11.8 7.2h0m2.1-.9h0m7.4 1.7h0" stroke="#0081ff"/>
<path d="M268.2 213.4h0m.2 7.3h0m2.7 1.1h0m1.6 1.1h0m.1-.1h0m0-2.5h0m.4-.4h0m.4 4.2h0m.2 .5h0m.4-1.2h0m.5 1.6h0m1.2-2.3h0m3.4 1.1h0m-8.1 2.1h0m1.2 .6h0m.8 3.5h0m1.1 1h0m1.2-1h0m.1-.7h0m.1-.5h0m3.5-3.3h0m.2 4.9h0m5.4 .2h0m-6.5 2.8h0m.6 1h0m.9 1.9h0m2.4-.6h0m.1-4.3h0m.6 4.9h0m6.7 0h0m1 .1h0m-8.4 .8h0m1.6 3h0m1.6 1.2h0m.7-4h0m2.2 .6h0m.1-.6h0m3.5 .8h0m.9 1.4h0m1 2.4h0m2.6-.4h0m.2 .4h0m-8.5 3.4h0m6.8-.3h0m3 3.6h0m1.1 0h0m.1-1.7h0m.8-2.5h0m.4 1h0m-2.8 5h0m.5-.4h0m.9 1.9h0m2.4-.2h0m.6 .9h0m.2-1.8h0m1 2.8h0m1.7-2.6h0m1.3 2.3h0m.7 1.4h0m-4.2 1.8h0m4.3 2.7h0m.2-.8h0m.2-3.1h0m2.3 1.2h0m2.4-1.6h0m.4 3.5h0m-2.4 2.8h0m.7 .3h0m2.8 4.2h0m1.5 5.7h0m.9-3.8h0m3 3.2h0m-4.4 6.4h0m1.5-1.2h0m.7-1.5h0m1.1-1.4h0m2.6 .4h0m.3 2.9h0m2.5 2.2h0m1.8-.7h0m-6 4.3h0m2.3 1.3h0m.3-4.2h0m2.9 3.6h0m2.5-1.6h0m-2.4 6.7h0m1.7-1.4h0m3.2 9.6h0m9.5 40.1h0m77.1 17.2h0m5.7 13.3h0m2.5-3.8h0m3.8 .7h0m-2.8 8.1h0m6.5 2.8h0m5.9-.1h0m-1.2 2.3h0" stroke="#0064ff"/>
<path d="M269.3 219h0m.8-5h0m11.8 12.1h0m5.2 4.2h0m-15.5 5.3h0m9.6-1h0m-11 5.3h0m6.1 2.6h0m-10.2 1.5h0m.8 .1h0m12.3 1.1h0m2.1 .2h0m-12 9.6h0m3.6-3h0m24.3-1.3h0m4.5 .7h0m-24.5 9.1h0m3.5 5.1h0m6.1-2.2h0m9.1 1.7h0m.5 .7h0m6 .8h0m-32.4 3.4h0m.2 2.9h0m2.1-5.1h0m2.1 1.8h0m9.3 2.1h0m2.2-.5h0m4.1-.3h0m3.7-2.1h0m1.3 3.9h0m2.5-5.2h0m2.6 1.8h0m.4 3.1h0m7.7-3.8h0m-36.6 4.5h0m1 4.3h0m9.8-4h0m.6 .5h0m4.6 .6h0m1.5 3.1h0m4.5-3.5h0m2.9 2.1h0m7 .5h0m16.9 .2h0m-50.4 7.9h0m.3-4.8h0m5.6 .9h0m3.8 1.7h0m10.5 1.9h0m11.1-1.5h0m8.1-2.5h0m2 .2h0m1.4-.1h0m-42.2 6.7h0m.8 .8h0m10.1-2.7h0m1.6 .3h0m5.2-.4h0m10.8 2.6h0m11.3-1.5h0m5.6 3.2h0m11-3.3h0m1.8 1.8h0m15 2.4h0m-70.5 4.4h0m1.1 1h0m2.3-2.2h0m8.3-.9h0m3.8 .4h0m3.2-.1h0m6 3.8h0m4.2-5.6h0m.2 1.5h0m6 3.9h0m.7 .1h0m11-3.9h0m6.1 1.1h0m8.3 2.8h0m10-3.6h0m.3-.9h0m-66.4 9.5h0m4-4.3h0m10.2 5.3h0m2.7-1h0m9.2 .1h0m16 .4h0m34.7-1.9h0m.2 1.3h0m-80 3.8h0m6.2 1.2h0m3.5-1.5h0m1.1-1.8h0m1.9 1.7h0m2.5-1.2h0m5.7 3.9h0m1.4-1.7h0m3.7-.8h0m.5 2.4h0m.1-1.8h0m14.6 .4h0m.9-.1h0m8.9-1.5h0m13.4-1.4h0m5.5 3.3h0m9.8-2.6h0m-78.4 5.8h0m.7 1.1h0m.5 1.1h0m1.7 2.5h0m2.3-5.3h0m6.4 1.5h0m21.7 .5h0m1.2 1.6h0m.4-1.3h0m28.3-.9h0m2.9-1.2h0m3.8 4h0m2 .1h0m5.9-2.2h0m24.5 0h0m-99.6 7.8h0m13.5-2.7h0m1.9 2.3h0m.5-.1h0m9.9-2.3h0m1.1-.1h0m21.1 1h0m28.2 2.5h0m23.4 1.3h0m-93.4 3.8h0m17.2-.3h0m15.3-2.1h0m9.2 3.5h0m13.3-1.4h0m2.5 .2h0m47.8 1.9h0m-93 2.1h0m2.1 1.1h0m7.8-.6h0m51.5 3.4h0m-51.1 2.1h0m15.5 2.8h0m65.2-4.2h0m-90.8 10.2h0m6.8-2.8h0m-18.6 5.1h0m24.3 2.2h0m85.2 6.3h0m15.8 1.5h0m5.1-3.9h0m1.1 2.5h0m-116.5 6.5h0m117.9 1.9h0m2.9-1.3h0m-116.8 6.9h0m1.3-4.6h0m9.7 2.7h0m5.5 .4h0m.8 .6h0m56.3-1.2h0m14.4-.8h0m9.3 2.1h0m.5-2h0m-104.5 4.2h0m27.5 4.1h0m61.6-1.5h0m5.7 1.1h0m41.9-4h0m-140.9 7.8h0m16.1 .4h0m53.9-.6h0m68.1-1.5h0" stroke="#0000d6"/>
<path d="M265.4 202.4h0m4.7 10.3h0m-1.3 1.2h0m5.2 .7h0m-3.7 11.8h0m8.6 4h0m-10.4 5.8h0m5.1-4.9h0m4.8 2.2h0m2.3 3h0m7.5-4.1h0m6.7 1.8h0m-17 7.1h0m2.6-2.1h0m10.8 3.8h0m.2-3.5h0m1.4 0h0m-26.8 3.6h0m2 1h0m7.2 .1h0m.2 2.6h0m9.7-3h0m5.4 3.8h0m1.4-.3h0m-18 2.1h0m11.4 2.7h0m2.1 1.2h0m5-.7h0m-3.9 5.4h0m8-1h0m2.8-.8h0m1 3.9h0m.5-4.2h0m.9 2.7h0m5.9-3.3h0m4.3 5.2h0m-38.8 3.3h0m14.2-1h0m6 .9h0m2.9 .5h0m13.9 2.4h0m.8-1.1h0m-42.9 2.8h0m2-.6h0m1.1 3.3h0m2.3 1.5h0m.3-1.7h0m17.2-1.9h0m.5 2.1h0m.7-1.2h0m1.3-.8h0m3.4-.5h0m2.2 1.4h0m1.4-.3h0m1.6 2.8h0m8.5-.4h0m-39.2 4.9h0m20.7 1.4h0m1.8-5.3h0m3.6 3.6h0m2.2-2.1h0m.1-.2h0m11.3 2.4h0m4.7-1.8h0m3.8 2.1h0m-44 3.8h0m6.4 3.3h0m.5-1.9h0m22.7-2h0m3.5 .3h0m3.9-1.4h0m.2 5.8h0m12-4.4h0m-33.1 4.7h0m3.4 4.6h0m6.5 1h0m1.4-1.6h0m40.2 .7h0m-71.7 3.3h0m11.6 2.7h0m3.7-3.9h0m7.7 4.2h0m1.1-2.8h0m15.2-.6h0m42.9 2.4h0m-71.6 4h0m10.6 2.8h0m.9-.9h0m27.1 1.9h0m16.1-5.2h0m-61.5 9.3h0m2.9-3.6h0m2.2 5h0m8.9-4.7h0m2.3 .8h0m6.1-.6h0m3.9 2.4h0m0-1.1h0m6.6 2.1h0m1.3-1.9h0m.4-.2h0m4.1-2.1h0m17.6 2.1h0m4.2-.9h0m2.5 2.3h0m3.5-3.3h0m5.4 .3h0m4 5h0m9.2-5.3h0m4.8 2.5h0m4.6 .8h0m.4-.8h0m.4 1.2h0m-90.3 5.4h0m3.2-2.9h0m9.3-.6h0m.8 2.8h0m24.3-.1h0m.7 1.4h0m42.7-.8h0m9.1 1.4h0m-78.8 7.2h0m6.2-2.6h0m68-1.6h0m13.8 1.6h0m5.5 1.6h0m-102.5 5.6h0m9.2 1.1h0m20.3-2h0m5.2-.5h0m8.7 1.4h0m8.8-.1h0m1 1h0m45.5-3h0m8.8 1.1h0m-101.3 4h0m78.9-1.3h0m-68.7 8.7h0m18.6-1.8h0m5.4-.7h0m30.2 1h0m39.4 .7h0m-107.3 4.4h0m8.7 2.2h0m9.4-.7h0m96.2-.1h0m-107.7 4.6h0m5.5 5.1h0m20.5-4h0m88 1.6h0m-116.2 5.9h0m43.7 4.2h0m.8 .2h0m8.3 3.9h0m53.7-.5h0m22.6-3h0m-112.2 7.7h0m53.9-1.3h0m59.2 3.6h0m6.7-1.8h0m-131.5 5.7h0m4.1-.1h0m75.2-1.4h0m51.2-1.7h0" stroke="#0000b6"/>
<path d="M266.6 205.9h0m-.9 2h0m.1-.9h0m.3 3.9h0m1.9-2.2h0m1 1h0m-1.4 3.4h0m1.2 2.5h0m.9 1.6h0m0-3.2h0m1.5 3.3h0m.3-1.3h0m.2-.9h0m.7-2h0m3.7 3.8h0m-1.7 4.8h0m1.4-1.8h0m.3-.7h0m.1 .2h0m1.3 1h0m.5-.4h0m.2 0h0m0 2.2h0m.1 .2h0m.9-1.6h0m3.9 3.5h0m-4.6 5.5h0m3.3-3.3h0m.5-.9h0m1.1 1.6h0m.3 .1h0m1.3 .6h0m.5 .1h0m-7.6 4.4h0m4.7 .9h0m1.6-1.8h0m2 .5h0m2.1-.7h0m4.1 4.6h0m4.2 .3h0m.6 .2h0m-7.4 2.7h0m1.3-.3h0m4.6-.4h0m.1 3.6h0m.4-2.9h0m.5-.2h0m1 3.1h0m1.8-3.7h0m-3 5.8h0m6 1.4h0m.3-.7h0m.1 .3h0m2 1.9h0m.8-1.4h0m.9 1.1h0m1.9 2h0m-5.9 .3h0m3.9 4.6h0m3.1-3h0m.8 2.4h0m.5-.7h0m.7 .4h0m.5 .9h0m.4 8.6h0m5.5 4.4h0m-4.3 1h0" stroke="#0099ff"/>
<path d="M264.7 205.9h0m1.8-.1h0m.6 1.1h0m1 .1h0m-.9 .5h0m.9-.4h0m3.3 10.2h0m2.5 .8h0m2 1h0m2.7 1.6h0m.8 1.8h0m1-.6h0m1 3.1h0m.9 .5h0m.4 2.3h0m.2 1.1h0m2.5 .8h0m-.2 1.8h0m1.3 .4h0m.3 .4h0m3-.5h0m.3 4.7h0m1.1-2.7h0m.3-.1h0m3.6 1.6h0m4.3 6.1h0m4.9 3.1h0m.7 1h0m2.3 1.9h0m6.2 10.9h0m.9 4h0m1.9 4.8h0" stroke="#00b1ff"/>
<path d="M260.4 190.6h0m4 10.8h0m3.2 5.2h0m0 1.4h0m5.2 6.3h0m6.4 7.6h0m11.5 14.7h0m.1-3.7h0m1 .1h0m4.7 2.8h0m.6-.3h0m1.7 4.4h0m.9-1.6h0m0 1.9h0m5.8 5.9h0m1.9 .4h0m1.7 5.2h0" stroke="#00cdff"/>
<path d="M266.1 232.7h0m27.9 19.4h0m-20.9 12.1h0m46.7 34.8h0" stroke="#f10800"/>
<path d="M280.3 239.6h0m-10.4 22.3h0m5 22.2h0m2.3 10.2h0m21.1 .1h0m57.5 8.8h0m12.4 14.8h0m6.1-.9h0m-91.1 12.2h0m11.2 11.8h0m104.5 4.1h0m9.5 19.4h0" stroke="#000080"/>
<path d="M294.1 269.2h0m54.7 29.6h0m-24.6 22.3h0m102.3 48.5h0" stroke="#9b0000"/>
<path d="M286.3 243.8h0m-6.5 30.2h0m16.5 40.4h0" stroke="#53ffa4"/>
<path d="M301.6 241.8h0" stroke="#00e5f8"/>
<path d="M269 230.2h0m30 29h0m12.2 18.4h0" stroke="#ffae00"/>
<path d="M276.2 251.9h0m33.5 26.1h0m103.9 77.9h0" stroke="#e4ff13"/>
<path d="M298.2 236.5h0" stroke="#29ffce"/>
<path d="M260.7 241.1h0m.2 5.1h0m3.3 1.3h0m2.4-.4h0m-18.1 2.6h0m.9-.1h0m4.1 3.9h0m2.5-3.4h0m4.6 3.2h0m6.4 .8h0m1.2-1.1h0m-22.1 7.5h0m9.8-3.9h0m2.4 .8h0m.3 .6h0m1.6 .3h0m2.3-2.2h0m.2 .5h0m-14.5 9.5h0m.6 .1h0m.8-1.6h0m.3 1.8h0m2.7-4.7h0m3.3 1.9h0m1 2.6h0m3.2-2.5h0m3.9 2.8h0m-16.2 3.7h0m2.3-1.3h0m.6 3.1h0m6-3.1h0m1.1 1.3h0m5.2-3.2h0m1.5 3.4h0m-16 6.7h0m17.5-1.5h0m-13.5 7.7h0m.3-3.7h0m3.3 1h0m9.2-1.2h0m5.6 .6h0m-18.8 6.2h0m13.5 1.8h0m-7.6 8.5h0m-9.4 2h0m1.9 4.4h0m6 1.1h0m3.2 2.3h0m16.4-3h0m-30.1 11.6h0m15.6 .1h0m3.7-2.3h0m4.4-3h0m7.4 3.1h0m-20.6 4.4h0m9.6 2.5h0m-14.5 2h0m1.6 4.8h0m22.7-2.6h0m-26.7 6.3h0m7.5-1h0m4 1.3h0m9.2 .6h0m1.4-2.7h0m-23.7 6.1h0m2.2 4.5h0m7.1-1.7h0m10.3-3.5h0m.6 2.4h0m2.5 2.2h0m1.5-4.6h0m7.3 5.1h0m1.7-.2h0m4.9-1.4h0m-39 6h0m2.5-2.1h0m22.3-.6h0m1.3 4.2h0m-25 6.1h0m7.8-.6h0m3-3.6h0m10 1.3h0m2.8 2.1h0m9.9-3.3h0m2.8 1.7h0m-30.1 5.5h0m8.4-.8h0m4.1-.5h0m1.3 .6h0m20.8-.6h0m1.5 4h0m-39 .7h0m29.7 3.3h0m4.6-3.4h0m2.4 4.5h0m-37.8 4.8h0m6.2-2.5h0m12.9 2.2h0m2.9 2.3h0m1.9-.1h0m6-3.8h0m13.1 .8h0m-46.1 5.6h0m9.1 1.7h0m27.3-1.3h0m-36.4 3.6h0m.8 1.5h0m13.9-.4h0m3 1.1h0" stroke="#0001ff"/>
<path d="M256.8 273.8h0m2.2 5.6h0m11.6 6.5h0m-20.3 6.6h0m17-.5h0m-10.4 27h0m-.9 14.9h0m9.8 .7h0m6.4 17.3h0m16.5 8.7h0" stroke="#0064ff"/>
<path d="M260.8 267.1h0m12.5 88.2h0m-13.2 19.5h0" stroke="#ff9400"/>
<path d="M258.1 245.2h0m5.5-1.9h0m-16.6 6h0m.8 2.3h0m0 1.1h0m1.2-.2h0m3.4 0h0m5.4 1h0m.9-4h0m-10.1 6.9h0m5 4.2h0m.1-.9h0m3.2-.6h0m5.3-1.9h0m2.5-.2h0m3.6-.6h0m-18.1 8.6h0m0-.3h0m1-1.3h0m1.9 .6h0m5.9 .2h0m1.4-1h0m-2.3 8.1h0m1.6-2.4h0m1.4 1.6h0m7.1 1.6h0m-16.6 3.7h0m2 1.9h0m1.8-3.1h0m5.9-.4h0m-10.3 6.8h0m1.1 3h0m10.1 .3h0m6.1 .5h0m-16.9 1.8h0m1.2-.1h0m6.5 1.2h0m.7-2.2h0m10.1 3.9h0m-.2 2.1h0m-2.5 6.3h0m-20.8 11h0m6.6-1.1h0m2.2-4.3h0m.1 4.1h0m2.4 1.1h0m3.9 .1h0m9.8-1h0m-24.3 3.1h0m2.7 2.5h0m5.5-1.6h0m1.4-2.4h0m1.5 2.3h0m4.4-.9h0m4.5 .4h0m9.3 1.5h0m-17.8 6.6h0m16.9-.3h0m-29.4 6.4h0m6.8-3.5h0m1-.3h0m3.4 2.6h0m5.3 .8h0m3-.1h0m12.1-1.1h0m-30.8 3.5h0m17.3 2.7h0m7.4-2.4h0m4.8 4.5h0m2.3-.7h0m-30.3 6.1h0m3.9-2.3h0m.7 2.6h0m9.4-4.7h0m16.8 6h0m2.3-3h0m2.9 2.6h0m.8-4.7h0m-36.6 6.2h0m3.7 4.3h0m3.5 .2h0m7.6-2.1h0m4-1.6h0m10.8 3.1h0m6.2-2.8h0m-36.6 4.3h0m2.1 1.7h0m10.2-1.4h0m5.5 3.9h0m3.5-2.1h0m2-.9h0m6 2.2h0m2.1 1.9h0m.7-.8h0m-20.9 5.3h0m11.5 1.2h0m1.1 .5h0m2.5-.3h0m14.3-5.1h0m-41.9 11.2h0m11.3-3.8h0m.5 1.6h0m.4-3.2h0m6.6 4.4h0m4.9-3.9h0m10 1.7h0m-24.4 6.8h0m10.5 1.3h0m13.6-3.1h0m6-.7h0m-38.5 6.2h0m18.7 2.1h0m19.6 1h0m6.7 1.5h0m2.3-3h0m-44.8 3.5h0m42.1 1.1h0" stroke="#00009b"/>
<path d="M250.7 242.3h0m7.1 .5h0m-9.4 3.7h0m1.5 1.1h0m1.1-1.7h0m-4.8 9.2h0m.8 4.8h0m5.6-1.9h0m3.6 2.3h0m3.3-4.1h0m1 4.6h0m.1-5.1h0m.6 5h0m1.1-2.3h0m.8 .8h0m3.7-4.1h0m2.1 .6h0m-16.9 6.6h0m11.3 3.3h0m-4.3 5.1h0m.2-.3h0m2.4 .9h0m1-2h0m-8.4 4.4h0m1.4-.5h0m1.1 1.8h0m12.6 1.4h0m-18.4 5.4h0m1.2 1.2h0m9.3 .5h0m4.1-4.4h0m1.8 1h0m-18.7 6.3h0m.3 3.7h0m8.5-.1h0m2.6-1.1h0m2.1-.9h0m1.3-1.9h0m3 1h0m-13.7 4.7h0m2.3 4.8h0m3.1-3.5h0m2.7 3.8h0m1.4-4.5h0m4 3.6h0m-11.5 6h0m2.7-.7h0m7.2-2.3h0m1.5-1.1h0m.5 .3h0m-13.7 10h0m1.1-3.6h0m2-1h0m1.2 3.2h0m1.2-2.1h0m13.7-.6h0m.6 4.4h0m.9-1.5h0m1.8 .8h0m-28.5 5.7h0m.6-2.9h0m1 2h0m.2-3h0m.4-.2h0m1.2 5.2h0m15.6-1.9h0m6.9 1.3h0m-25.1 1.3h0m5.8 0h0m3.4 .2h0m0 3.5h0m7.6-3.3h0m3.6 5.3h0m4.7-5.1h0m4.6 5h0m-31.8 5.9h0m10-2.6h0m3.4-.9h0m1.5 2.6h0m12.6-4.1h0m6.4 2.5h0m2.2-2.5h0m-28.1 10.2h0m.9-3.6h0m2.4 1.7h0m1.2-.3h0m2.3 2.2h0m2.4-.2h0m1.5-4.3h0m2.1 .6h0m1.8 1.9h0m3.3-2.3h0m-23.4 10.4h0m1.9 .3h0m.3 .6h0m1.2-2.5h0m22.3-2.3h0m4.5 2.1h0m2.5 .7h0m-34.4 6.3h0m5.6-3h0m.1 .4h0m16.1 2.9h0m13.2 .6h0m2.1-3.3h0m2.5-.2h0m-36.8 6.8h0m9.1-2.1h0m4.6 1.9h0m2.5 2.7h0m.5-2.6h0m0-1.1h0m4.8 3.4h0m6.6-.5h0m7.7-2.9h0m-19.7 5.6h0m.4 .7h0m2.3-1h0m8.3 4.3h0m6.2-2.9h0m7.6-.2h0m-43 5h0m3.2 1.2h0m2.1 .5h0m.1 1.5h0m12.6-2.9h0m0 2h0m3.5 1.4h0m2.2-2.4h0m1.8 3.6h0m3.7-5.3h0m14.5 5.5h0m.4-5h0m-35.1 10.1h0m4.4-1.8h0m2.1 1.1h0m1.5-3.8h0m2.3 4h0m2.7 1.2h0m2.2-.5h0m13-3.7h0m2.9 .5h0m-40.1 4.4h0m8-.3h0m4.3 1.7h0m.3 2.4h0m9.7-2.6h0m1.5-.6h0m6.7 3.2h0m6.4 1.3h0m.8-5.4h0m1.1 4h0m.7 1.8h0m-33.2 1.1h0m14.3 2h0" stroke="#0000f1"/>
<path d="M258.6 257.9h0m-4.9 34.6h0m4 .5h0m-3.1 7.6h0m12.7 11.9h0m-5.8 26.5h0m8.3 4h0m18.5 1.7h0m-19.2 17.7h0m-6.1 1.7h0" stroke="#0081ff"/>
<path d="M246.9 247.4h0m1.1 5.2h0m6.3-3.5h0m5.6-.1h0m1.4 .8h0m3.1 1.9h0m-7.6 5.9h0m2.7 .1h0m9.1 1.3h0m-11.6 3.2h0m2.8 1.2h0m3.5-1.4h0m-5.2 8.3h0m1.9 2.2h0m4.1-5h0m-16.4 7.9h0m19.1 1.4h0m3.1-1.1h0m-22.8 8.4h0m17-1.8h0m1.9 2.1h0m2.8-4.1h0m-3.3 7.6h0m-13.2 6.9h0m2.4 .1h0m3.8-1.2h0m-3 6h0m11.5 8.4h0m8.1 .5h0m.4-1.9h0m-16.1 5h0m4.4-1.1h0m2.2 0h0m-18.6 11.7h0m14.3-.1h0m2.1 2.5h0m.4-1.8h0m.7 2.8h0m-13.6 1.9h0m15.2 3.5h0m2.1-2.9h0m12.2-.1h0m-29.9 9.6h0m17.7-2.6h0m17.1 2.9h0m-38.2 1h0m1.7 5.8h0m.5-.3h0m13.8 .2h0m-14.3 6.2h0m25-4.6h0m6.6 .5h0m-20.7 5.2h0m7.6-.9h0m4.5 3.8h0m1.1-2.3h0m-25.6 10h0m6 0h0m13.5-4h0m14.1 3.7h0m.2-4h0m-21.5 9.8h0m2.3-2.3h0m.1 .4h0m.7 .8h0m10.1-.2h0m11.1-3.4h0m-32.5 10.2h0m2.7-1.2h0m2.3 2.1h0m15.1-3.7h0m3.9-.3h0m5.7 2.2h0m-28 2.9h0m17.3 .5h0m13.8-.6h0" stroke="#9b0000"/>
<path d="M253.7 249.8h0m4.1 3.6h0m-2.5 4.8h0m1.6 .5h0m-4.9 6.1h0m-1.4 7.2h0m13.5-.8h0m-7.8 2.9h0m7.9 8h0m6.5 2.1h0m-22 5.7h0m20-1h0m1.4-1.7h0m-5 10.6h0m-11.1 10.1h0m1.4-3.4h0m1.6 .5h0m4.5 6.8h0m3.4-2.6h0m10.3 4.5h0m-16.8 1.7h0m.7 2.3h0m18.7 .2h0m3.7 1.4h0m-10.7 5.5h0m3.8 1.4h0m-13 2.2h0m4.3-.9h0m1.8 0h0m12.1 1h0m0 4.5h0m-27.4 5.9h0m3.4 4.3h0m5.7 .6h0m3.2 .6h0m1.4-1.3h0m11.8 1.7h0m6.3-2.4h0m-18.7 7.3h0m4.4-2.8h0m-10.8 7.5h0m.6 0h0m18.8 .7h0m-13.7 5h0m2.2 .7h0m11.6-3.4h0m.7 4h0m3.8-.5h0m3-1.8h0m-23.7 9.7h0m2.9-3.1h0m20.7-.4h0m.6 1.8h0m5.1-3.5h0m.4-.2h0m-41 10h0m5.7-.5h0m10.6-1.1h0m3.4 .9h0" stroke="#000080"/>
<path d="M246.7 247.2h0m10.4 .2h0m2.2 35h0m6.5 32.2h0m2.1 9.9h0m4.7 2.7h0m1.3 1.5h0m-12.6 4.8h0m17.7 16.6h0m7.6-4.9h0m-20.6 17.1h0m17.2-4h0m-6.3 14.9h0" stroke="#b60000"/>
<path d="M251.1 250.6h0m-5 22.7h0m25.2 27.2h0m6.4 63.9h0m-27 9.3h0" stroke="#29ffce"/>
<path d="M252.7 252.4h0m-.6 53.3h0m32 24.5h0" stroke="#a4ff53"/>
<path d="M266.5 251.4h0m-12.7 6.2h0m15 3.5h0m-5.2 22.8h0m-2.2 90.2h0m28.4-2.4h0m-12.6 3.7h0" stroke="#00b1ff"/>
<path d="M251.3 244.9h0m14.9-.2h0m-8 5.3h0m-5.4 5.6h0m6.1 .9h0m5.1-1.2h0m-13.1 11.3h0m3.6-2.7h0m8.1-.8h0m5.1 3.5h0m-20.6 7.2h0m15.7 1.1h0m-1.6 9.3h0m1.5-1.2h0m-5.1 6.4h0m4.4 11.6h0m12.1-2.7h0m-26.6 15.4h0m14.6-3.8h0m10.1 5.8h0m2.4-.2h0m-26.8 6.7h0m32.2 .3h0m-32.6 7.3h0m7.9-1.4h0m0 4.3h0m.3-3.1h0m2.5 1.3h0m12.9-3.5h0m-17.3 11.2h0m11.2-1.4h0m-4.5 2.8h0m6.8 1.4h0m4.4-.4h0m11 .9h0m-19.7 5h0m21 8.9h0m3.7-4h0m-38.9 13.8h0m15.9 .5h0m7.7 1.6h0m.8-3.2h0m.1-.2h0m9.7 8.4h0m2.8 1.2h0m-1.5 1.4h0m8.3 1.9h0" stroke="#0000b6"/>
<path d="M257.6 263.5h0m-9.5 6.4h0m21.5 20.5h0m9.8 27.4h0m-21.7 21.8h0m-7.2 25.8h0m35 11.4h0" stroke="#ff1e00"/>
<path d="M261.4 296.7h0m8.7 69h0" stroke="#ff7e00"/>
<path d="M254.5 316.6h0m28.2 22h0" stroke="#00cdff"/>
<path d="M273.9 319.5h0" stroke="#f10800"/>
<path d="M264.6 246.9h0m2.9-1.6h0m-17.8 4.3h0m15.7 1.2h0m-14.3 5.5h0m14.3 3.2h0m2.4-1.1h0m-3.8 4.9h0m-13.9 7.1h0m19.8 .8h0m-21.2 7.1h0m20.2-1.6h0m-17.2 5.9h0m6.3-2.2h0m-3.6 6.3h0m13.5-.8h0m5.5 19.8h0m-.1 3.9h0m-21.6 9.7h0m9.4-.9h0m-11.7 3.9h0m23.5 1.2h0m-23 8h0m9.7-3.8h0m6.1 3.7h0m-12.4 2.9h0m4.5 4.6h0m7.8 1.8h0m16.9-1h0m-23.4 9.3h0m.6-2.7h0m19 3.2h0m-29.7 6.5h0m14.7-2.9h0m20.5 2.4h0m-28.2 5.9h0m37.3-.5h0m-44.2 4.3h0m21.1 3.5h0m7-1.4h0" stroke="#800000"/>
<path d="M253.6 251.1h0m6.4 37.1h0m5.6-.3h0m-1.2 14.2h0m-4.4 30.8h0m25.1-1.3h0m-24.6 16.2h0m-1.8 21.6h0" stroke="#0099ff"/>
<path d="M262.4 257.2h0m-6.6 12.5h0m18.7 49.2h0m-18.1 15.1h0" stroke="#16ffe1"/>
<path d="M258.5 256.4h0m.7 3.4h0" stroke="#ffc400"/>
<path d="M270.4 333.1h0m-8.7 16.7h0" stroke="#ffae00"/>
<path d="M258.5 296.2h0m-8.7 41h0" stroke="#3cffba"/>
<path d="M263.2 357.7h0" stroke="#00e5f8"/>
<path d="M259.9 242.1h0m.7 19.8h0m19.3 92.4h0m-18.9 9.2h0" stroke="#004dff"/>
<path d="M273.9 330.5h0m-1 30.4h0" stroke="#ff3800"/>
<path d="M263.2 287.6h0" stroke="#baff3c"/>
<path d="M259.4 188.7h0m-8.5 6.1h0m4.2 .1h0m0-1.6h0m.2-1.5h0m2.7-2.2h0m1.3 5.2h0m1.1-.5h0m-12.6 4.5h0m.8-.5h0m3.3-1.4h0m.8 3.9h0m.7-5.4h0m.4 5h0m.6-5h0m1 2.1h0m0 2.3h0m1.2-3.2h0m4.2-1.1h0m1.5 .4h0m-16.5 5.5h0m2.3 1.2h0m.3-1.3h0m0 2.6h0m.3 1.3h0m.6 1.2h0m2.2-3.9h0m3.1 2.5h0m1.3-3.1h0m0 3.7h0m2.4-2.7h0m.1 2.8h0m.9-1.1h0m.1-2.9h0m1.4 .1h0m2.3 1.4h0m-12.8 4.3h0m1 5.5h0m4.7-5.2h0m2 3.4h0m.1-1.4h0m.4 2.3h0m.8-3.1h0m.4-.4h0m5.1 2.6h0m-19 6.9h0m.2-.4h0m2.4-3.9h0m3.7 0h0m.7 .7h0m.1-.1h0m2-.1h0m.1 4.3h0m2.6-4.4h0m1 3.4h0m.4 1.4h0m.1-2.9h0m3.3-1.2h0m2.5 2.8h0m-21 4.7h0m1 .7h0m3.3-1.4h0m.3 .9h0m1.7 1h0m1.1-.5h0m.1-3.4h0m2.9 .6h0m.2 3.9h0m1.2 .3h0m.5-4.5h0m.1-.8h0m.3 2h0m.6 .1h0m.3-2.2h0m2.4 1h0m1.5 2h0m.1 .6h0m2.4 1.9h0m.2-.8h0m1-4.6h0m-18.8 11.7h0m.2-3.2h0m3.3-1.3h0m2.1-.6h0m.6 3.1h0m.7 1.3h0m1.9-4.4h0m.1 .3h0m2.7 3.1h0m3.5-3.1h0m3.7 2.5h0m.6-1.2h0m-20.6 7.8h0m.7 1.3h0m.4 .2h0m2.5-2.9h0m.2 2h0m7.1-1.9h0m1.3-1.3h0m.9-.4h0m2 3.3h0m1-1.6h0m1.5 1h0m1.3-2.7h0m.1 1.8h0m.1 .4h0m-19.3 3.4h0m.8 .1h0m2.1-.1h0m.6 5.2h0m.1-.2h0m.4-.7h0m1.9-5h0m.6 2h0m.7 2.1h0m1.9-3.3h0m.1 1.4h0m3.4 .7h0m3.1 .4h0m.3-2.2h0" stroke="#0000b6"/>
<path d="M261.8 218.5h0m3.3-.5h0m-7.7 3.7h0m.9-1.3h0m2.9-.9h0m1.9 4h0m.5-4.4h0m.5 1.8h0m-2.4 4.2h0m3.8 5.1h0m.3-4.9h0m-4.7 8h0m2.9-.4h0" stroke="#0019ff"/>
<path d="M249.2 194.8h0m2.4-1.2h0m.8 1h0m.9-.3h0m.8-1.6h0m.6-.6h0m2.8-1.7h0m.1 1.7h0m1.5 .8h0m2.5 1.1h0m-14.5 4.1h0m.4 1.7h0m.6-.6h0m1.7-2.8h0m1.1 1.7h0m1.1 .3h0m1-.6h0m.1 2.4h0m1.6 .3h0m.3-2.6h0m0-.1h0m.4 3.1h0m.2-1h0m.4-4.6h0m1 2.8h0m0-1.6h0m0-1.3h0m.1 4.6h0m.8 1h0m1.6-1.3h0m.4 1.4h0m.5-1.6h0m.3 1.4h0m.7-1.6h0m.2-1.3h0m1.1-2.4h0m.3 4.8h0m.6-1.6h0m-18.9 7.9h0m.4-.4h0m.8-2.8h0m.2 0h0m.1 1h0m1 1.6h0m4.3-2.3h0m.1 2.5h0m.7-2.3h0m.2-1.2h0m1.3 .6h0m1.4-1.6h0m.3 2.2h0m1.9 1.4h0m.5-.5h0m1.1-.3h0m1 1.5h0m1.4-.1h0m.9-3.4h0m.6 3.1h0m.4-2.6h0m.2 3.8h0m.6-.7h0m.3 .8h0m-20 5.4h0m.1 .5h0m.5-4.7h0m.6 3.4h0m.5-.9h0m0-.6h0m.3 .7h0m.1-1.1h0m1.6 .1h0m.3-1.1h0m0-1.1h0m5.7 4.8h0m1-2.5h0m2.8 3.2h0m.2-5.4h0m.9 3.3h0m1.8 .3h0m.7-4.1h0m.3 2h0m1.4-1.6h0m-18.9 10.4h0m1.6-1.5h0m.4-1.2h0m0 3.7h0m1.3-2.2h0m.5-1.8h0m.3 3.6h0m.4-2.7h0m.9 1.8h0m.1 .1h0m1-3.5h0m.2 4.7h0m1-.8h0m.3-1.8h0m.3-.8h0m.3-1h0m.6 .6h0m.1-.2h0m.1 2.5h0m.5-3.6h0m.4 2.1h0m.3-1h0m.1 2.8h0m.4 .5h0m.7 .3h0m.6-.1h0m1.5-.4h0m.9 .2h0m2.6-4.6h0m.7 .1h0m.1 1.3h0m.7 1.1h0m.4-2.5h0m.7 5.1h0m.6-2.8h0m1 3h0m-20.8 2h0m.1 1.9h0m.1-1.8h0m1.4 3.5h0m.9-3.1h0m.3 .7h0m.6 .7h0m.4-.7h0m.2-2h0m0-.3h0m2.4 3.3h0m.8-2.8h0m1.1-.6h0m.5-.3h0m1.6 .9h0m.2-.1h0m0 1h0m.2 3.7h0m1.4-5.4h0m.1 .2h0m.1 1.8h0m1-1h0m.7 3.4h0m0-4.2h0m.1 2.4h0m.2-1.3h0m4-1.5h0m-18.7 6h0m.4 .3h0m.3-.5h0m.2 2.5h0m.2 0h0m1.1-.6h0m1.5-.8h0m1-1.1h0m1.4 3.1h0m.5-2h0m0 4.9h0m.5-.8h0m2-1.6h0m.5-.2h0m.6 2h0m.1-1.9h0m.5 1h0m.3-2.5h0m1.4 4h0m.3-4.3h0m.3-1.6h0m.4 4.1h0m1.8 1.5h0m2-5h0m.3 5.2h0m-18 2h0m1.2-.8h0m.1 4.1h0m.5-2h0m.8-3h0m0 4.7h0m.7-2.3h0m.1 .6h0m2.5 1.4h0m.2-1.5h0m.6-1.6h0m.3 2.5h0m.4-.6h0m1.4 1.1h0m1.5-1h0m.3-2.1h0m1.9 4.2h0m.1-3.4h0m.8 1.4h0m0 .1h0m1-1.3h0m1.6-.4h0m.2 3.1h0m3.5-2.8h0m.5 2.3h0m-19.8 1.6h0m.4 3.1h0m.3 1.4h0m.3-3.4h0m.2 4.2h0m1-1.8h0m0 .3h0m.8 1.7h0m0-3.8h0m1.1 .4h0m.3-1.9h0m.1 2.9h0m.3-.2h0m.3 2.3h0m.3-.5h0m.1-2.1h0m.8 1.3h0m.7 .4h0m.3-.6h0m2 .3h0m.7-1.1h0m1.2 .5h0m.5-2.4h0m.2 2h0m.1-.3h0m.8-1.6h0m1.6 2.1h0m.4-2.6h0m.1 1.5h0m.2-.1h0m.9-1.6h0m.6 1.9h0m-16.9 3.6h0m1.3 .3h0" stroke="#00009b"/>
<path d="M252.1 192.5h0m.4-.6h0m2.7 0h0m0-1.8h0m.2 1.3h0m.5-1.1h0m5.7 4.5h0m-7.7 4h0m3.8 1.3h0m1.8-2h0m.3-2.8h0m1.5 1.9h0m-16 6.1h0m.2 0h0m5.8-1.7h0m3.3 4.3h0m3 .2h0m5.5-1.9h0m-17.6 5.3h0m2-2.4h0m2.3 2.7h0m4.8 1h0m2-.5h0m.2 .3h0m-5.3 6.9h0m.2 .9h0m.5 .2h0m2.2-2.6h0m1.8 .9h0m1.3-3.8h0m-11.2 10.4h0m4.4-3.8h0m1 2.1h0m1.8 .4h0m3.1 1.7h0m-12.6 5.2h0m6.1 .3h0m.9-.7h0m9.6-2.6h0m.3-.6h0m-12 10h0m1.4-1.4h0m0-1.6h0m2.1 3.3h0m3.7-1.2h0m.2 .2h0m5-.4h0m1.7 .7h0m2.4-3.7h0m-17.9 8.7h0m5.1-1.4h0m1.2 .3h0m.5-.7h0m3.5 0h0m.2 1.4h0m-14 3.6h0" stroke="#0000d6"/>
<path d="M252.3 191.9h0m6.9 2.3h0m1.4-1.2h0m.9 .7h0m.2-1h0m-14.6 6.4h0m2-2.3h0m1.5-.3h0m4.4 3h0m-6.1 6.8h0m.1-4.3h0m2.6 4h0m1.5-3h0m2-1.1h0m3.4 2.5h0m.6-3.1h0m-12 7.2h0m6.8 1.2h0m8.2-.3h0m-16.4 4.5h0m5.3 3.3h0m1.1 .2h0m1.5-1.7h0m1.7 1.1h0m7.3-3.3h0m-14.9 11.5h0m1.3-3.2h0m5.7 1h0m.8-.3h0m6.1-1.7h0m-15.6 7h0m.3 1.8h0m1.3-2h0m1.7-1.3h0m3.1 .1h0m.1 2.9h0m4.4-.5h0m4.1 .8h0m1.1-.8h0m-17.7 2.6h0m2.6 .4h0m1.3 .2h0m1.4 3.5h0m11.4-2.8h0m-16.5 6.4h0m4.2 2h0m1.8-2.7h0m1.5 .3h0m1.1 .9h0m3.6-.5h0m1.1 1.3h0m.6-.9h0m1.8-2.1h0" stroke="#0000f1"/>
<path d="M261.3 202.8h0m2.8 3.6h0m-6.4 5.5h0m2.7-1.2h0m-.1 5.1h0m.4-.3h0m1.9-2.2h0m1.9 .1h0m.4 2.9h0m-3.8 4.2h0m1.6 3.3h0m2.9-.1h0m-.2 6.1h0m-4.7 6.5h0m.5-1.5h0m3.2-.2h0m-.6 5.3h0" stroke="#0001ff"/>
<path d="M263.7 221.7h0m1.9 5.8h0m-6 10.6h0m2.3 1.3h0m.8-.9h0m.8 .6h0" stroke="#004dff"/>
<path d="M252.3 193.6h0m2.6-3.4h0m.6 .8h0m.7-1.4h0m.1 1h0m3.9 4.2h0m.6-1.3h0m-13.5 5.5h0m1.8-1.2h0m.5-.8h0m1.5 1.6h0m.2 1h0m1-.1h0m1.7 0h0m1.2-2.3h0m1.4-.8h0m.1 2.9h0m.4 .7h0m4.6-3.9h0m-16 6.4h0m.9 2.3h0m.4-3h0m.8 4.3h0m2.1-1.9h0m.3 .4h0m.8-2.5h0m2.2 3.2h0m5.8-3.1h0m-14.6 10.1h0m1.6-.7h0m4.1-2h0m.8 1h0m.5-1.5h0m1.5-.5h0m0 .2h0m0 .9h0m.6 1.3h0m2.3-3.9h0m1.2 2.9h0m3.1 2.3h0m.8-1.4h0m.4-.4h0m.4 1.8h0m3.3-2.3h0m.2-2.3h0m-19.4 8.1h0m2.9-1.8h0m1.1 2.5h0m2.6-2.2h0m4.3 4h0m4.2-2.2h0m.4 1.1h0m.7-.2h0m1.6-.6h0m1.7 .6h0m-21.2 4.7h0m3.2 .8h0m.1-.5h0m.2-2.8h0m2.4 .3h0m2.7 1.4h0m1.1 3.9h0m.6-4.8h0m1 2.2h0m2.1 1.8h0m1.1-2h0m1.5 2.4h0m1.2-4.6h0m3.4 4.4h0m-19.8 5h0m.3-.9h0m.4-.5h0m0 1.9h0m.8 .1h0m1.4 .8h0m1.5 .1h0m.1-3.1h0m.8-1.3h0m3.6 2.6h0m.3 .1h0m.6-3.4h0m.3 .4h0m.9 .9h0m1.2 1.4h0m0-2.4h0m1.9 2.4h0m.3 2.4h0m1-3.8h0m-15.2 5.7h0m2 .5h0m1.6 3.5h0m3-5.2h0m.2 4h0m.2-.7h0m2.1-1.2h0m1.1-1.9h0m1 3.3h0m2.2-3.8h0m.1 1.7h0m0-.8h0m.9 4.4h0m.6-2.9h0m2-2.1h0m-17.6 9.3h0m2.5-1.7h0m.7 .9h0m1.6-2.8h0m1.7 .6h0m.3 3.7h0m.4-2h0m1.9-1.5h0m.4 .5h0m.7-1.1h0m1.2-.2h0m1.2-.1h0m2.6 3h0" stroke="#000080"/>
<path d="M261.8 198.4h0m2.5 13.3h0m.7-.4h0m-5.5 4.5h0m3 2.2h0m.9-2.8h0m2.1 .7h0m.1 1.8h0m-.3 3.1h0m-4.1 5.2h0m-1.9 10.2h0m.9-3h0m3.2-2h0m-1.6 7.9h0" stroke="#0031ff"/>
<path d="M248.7 225.4h0m4.9 4.6h0m8.9-4.5h0m-3 6h0m1.8 1.1h0m-13.6 7.4h0" stroke="#9b0000"/>
<path d="M264.6 230.3h0m-8.1 5.3h0m-8.1 2.1h0m1.6 3.6h0" stroke="#800000"/>
<path d="M245.3 222.6h0m.1 1.1h0m17.3 4.6h0m3.3-2.9h0m-17.2 14.5h0" stroke="#b60000"/>
<path d="M229 224.9h0m1 22.5h0m1 1.1h0m1.5-.5h0m6.8 2.5h0m3.8-.6h0m-5.8 7.8h0m-10.4 6.8h0m3.9-.2h0m6.2 4.9h0m4.8 2.2h0m-13.5 7.2h0m4.3-1.7h0m4.1-3.6h0m-5.4 23.1h0m-5 7.2h0m3.6 .4h0m-3.6 5.8h0m5.7 8.1h0m-5.3 7.5h0m.4 1.9h0m.3 4.4h0m1.4-3.2h0m.4 1h0m-3.6 7.5h0m3.9 5h0m.7-1.5h0m.7 2.9h0m-4.7 6.6h0m3.6 2.7h0m-5 8.5h0m1.5-2h0m1.8 2.6h0m-2.6 5.7h0m6.3-2.9h0m2.4 2.6h0m-6.8 4.4h0m5.3-.3h0m.8 3h0" stroke="#00009b"/>
<path d="M242.1 212.5h0m-13.2 52.8h0m11.5 5.5h0m-8.8 5.9h0" stroke="#0000d6"/>
<path d="M228.8 246.8h0m3.2-2.5h0m.2 10.2h0m-4.3 13.4h0m2.1 21.4h0m-3.1 14.8h0m5.1 3.2h0m-4.1 3.4h0m.9 .9h0m.8 11h0m1.1 12.5h0m-4.2 9.2h0m2.4-2.4h0m3.9-.2h0m.2-1.7h0m-4.4 18.3h0m4.7 2.5h0m1.2-3.5h0m-7.7 7.2h0m3.7 5.7h0m4.5 5h0" stroke="#000080"/>
<path d="M227.7 219.7h0m6.7 19.2h0m5.7 10.3h0m-4 17.4h0m-11.5 4.7h0m1.7 30.3h0m.5 5.9h0m3.7 3.5h0m.1 4h0m-4.1 9.2h0m3.3 1.9h0m1.9 0h0m.4-.1h0m-5.5 4h0m5.9 1.2h0m-7 2.3h0m.1 4.5h0m3.7-3.8h0m1.2 25.7h0m3 .3h0m-8.7 7.8h0m9.2-1.9h0m-9.5 3.8h0" stroke="#0000b6"/>
<path d="M227.2 225.9h0m10.3 35.6h0m1.3 .6h0m-1.5 5.3h0m1.2 .5h0m-8.7 11.2h0m-1.7 16.4h0m1.7 4.3h0m.3 1.9h0m-4.1 3.4h0m.9 3.1h0m2.4-1.3h0m.9 .8h0m.9 0h0m-1.2 6.7h0m.9 .6h0m-4.4 .5h0m1 3.2h0m5.3-2.6h0m-7.3 7.3h0m1.1-1.8h0m5.9 .5h0m0 .1h0m-4.5 8.3h0m5.1-1.5h0m-2.2 11.6h0m.3 .4h0m-6.2 6.5h0m7.4 2.5h0m.1-3.6h0m1.4-.7h0m-3.4 7h0m1.7-1.7h0m1 3.5h0m-7.8 2.7h0m8.7 1h0m-8.8 7.2h0m7.1-1.8h0m1.8 .2h0m-6.6 7.6h0m3.7 3.2h0m.1-1.7h0m2.4-1.8h0" stroke="#0001ff"/>
<path d="M230.8 218.8h0m11.5-5.4h0m-8.5 58.6h0m-6.4 24.6h0m.9-1.4h0m-1.2 5.6h0m.8 1.9h0m-.9 4.6h0m.7-2.1h0m-.3 6.1h0m4.1 8h0m-2.7 6.1h0m.2-.7h0m.8-.1h0m.5 .6h0m1.4 1.2h0m-5.1 3.9h0m1.8-1.5h0m.7-1.1h0m.6 3.3h0m.9-1.9h0m.6 3.6h0m1-.2h0m-4 1.5h0m.1 3.1h0m1.1-1.5h0m-2.7 8.2h0m-.7 3.3h0m3-.4h0m.1-1.2h0m4.2 4.5h0m-7.8 6h0m2.4 .8h0m4.4-2.7h0m-3.3 7.1h0m.4-2.6h0m2.2 3.7h0m-4.2 3.1h0m.4 3.5h0m3.9-1.4h0m.8-3.3h0m-3.3 8.2h0" stroke="#0000f1"/>
<path d="M229.1 235.9h0m-1.7 103h0" stroke="#00b1ff"/>
<path d="M225.2 254.5h0m1.8 77.3h0m-2.2 4.7h0m.1 3h0m-.3 20.6h0" stroke="#0099ff"/>
<path d="M230.4 295.2h0m-3.2 6.5h0m-1.1 1.4h0m.5 18.1h0m1.6 9h0m.2 12.2h0m-2.5 12.9h0m.4-4h0m1.7 3.5h0m4.6-.3h0m-5.4 4.4h0m.2 .5h0m5.4-2.1h0m1.6 10.3h0m-2.6 1.7h0m.9 .7h0" stroke="#800000"/>
<path d="M228.8 343.2h0m4.7 29.3h0" stroke="#0064ff"/>
<path d="M229.8 288h0m-2 12.3h0m2.7 2.5h0m-3.9 4.5h0m.3 .4h0m2.9 .8h0m1.5 1.3h0m-3.7 6.3h0m.7 1.7h0m.2-1.9h0m1.5 2.2h0m.3 .4h0m1.3 .8h0m.5-1.2h0m-5.3 31.7h0m1.5 6.2h0m2.1-3h0m4.1 5.1h0m-8.4 6.7h0m7.8 .3h0m-4.8 6.2h0" stroke="#9b0000"/>
<path d="M226 345h0" stroke="#0081ff"/>
<path d="M232.6 345.1h0" stroke="#004dff"/>
<path d="M235.3 236h0m.4-1.2h0m.9 2.1h0m-4.4 5.5h0m2.8-1.1h0m.5-.3h0m0 1.3h0m1.1-1.7h0m.6 0h0m.6 .8h0m.1-2.3h0m.2 2.3h0m.3 .2h0m-6.8 3.4h0m.8 1.6h0m.6-1.9h0m0 2.2h0m1.3 1.5h0m0-4.5h0m.2 4.3h0m1.3 .4h0m1.3-5.3h0m.1 5.1h0m.2-2.2h0m.8-.6h0m.6-.7h0m-8.3 7.1h0m.6 .5h0m.1 .5h0m.6 1.6h0m0-4.4h0m.5 .1h0m.3-1.2h0m.4 4.7h0m.9-4.3h0m.1 5.2h0m1.2-4.1h0m.2 1h0m.3 2.6h0m.1-3h0m.9-.2h0m.6 1.2h0m1.6-2.1h0m0 3.5h0m-8.9 3.7h0m.5 2.1h0m.6 1.3h0m.3-2.9h0m.3 2.8h0m.4-5.3h0m.9 5.5h0m.3-1.3h0m1.6 .4h0m.6-2.2h0m.5-1.3h0m3.6 .4h0m.5 4.1h0m.1-.7h0m-11 5.8h0m1.1-1.6h0m1-2.2h0m.1 2.5h0m1-.4h0m.6-2.4h0m.4 2.9h0m.9-1.2h0m.9 .9h0m.4-1.9h0m.8 0h0m.9 .9h0m.5 1.5h0m.2-.3h0m.6-3h0m.2 2.2h0m.4 .1h0m.2 1.6h0m.6-4.4h0m.2 2.1h0m.7 3.6h0m.1-1.9h0m.1 1.3h0m-12.3 4.9h0m.2-.1h0m.9-3.4h0m.7 4.3h0m.1 .3h0m.5-3.1h0m.1 1.8h0m.6 .8h0m.2-4.6h0m.1 .6h0m.2 .4h0m.7 2.7h0m1.1-3.6h0m.5 1.1h0m.1 .7h0m2.1 3.3h0m.8 .4h0m.2-3h0m.8-1.4h0m.7 1.5h0m.5-.3h0m.2-.3h0m.6-.7h0m.1 2.3h0m0-1h0m.6 1.7h0m-12.6 7.3h0m.1-4.9h0m1.6 1.8h0m.9 1.1h0m.3-1.2h0m0-1h0m1 .4h0m2.3 3.2h0m.3 .6h0m.2-4.7h0m.1 2.4h0m.5 0h0m.1-2.3h0m.3 4.3h0m0-1.8h0m1.9-3.3h0m0 2.7h0m.2 1.8h0m.3-.2h0m.5-2.4h0m.3 .2h0m.1 .2h0m.1-2.1h0m.3 5.2h0m.4-3.6h0m.5-1.1h0m.3 .4h0m-11.7 9.1h0m.7 1h0m.5-2.2h0m.7 .8h0m0-2.6h0m.4-1h0m.1 3.5h0m1.1-2.6h0m1 1h0m.4 1.2h0m.7 1.5h0m1-2.2h0m.3-.3h0m1.3 .2h0m.5-1.6h0m.2-1.1h0m.7 4.8h0m0-2.6h0m.3-2.3h0m.4 3.1h0m.9 .8h0m.5-.9h0m0-2.3h0m-12.1 8h0m.8 2.1h0m.5-1.6h0m.2-2.8h0m.3-.2h0m.1 2.6h0m.4 1.3h0m.5 .8h0m1.5 .7h0m.4-1.5h0m.1-3.8h0m.7 4.8h0m.2-.8h0m.8-1.5h0m.2-.8h0m.5 2.9h0m.2-4.9h0m.8 1.2h0m.7 2.9h0m0-2.8h0m1 2h0m.5-1.6h0m0-1.2h0m.2 2.6h0m1.2-2.1h0m.2 1.8h0m.3 1h0m-10.6 5.8h0m.1 1.9h0m.1-2.9h0m.4-1.3h0m0 3.3h0m.1-3.4h0m.6 3.7h0m.1-4.9h0m.1 3.3h0m.1 .6h0m.6-.5h0m.8 1.2h0m.5 1.1h0m.3-4.6h0m.4 2.1h0m.4 .9h0m.2-1.2h0m.3 1.3h0m.1 .2h0m.8 .4h0m0 .7h0m0-5.1h0m1.3 2.4h0m.7 3h0m.1-1.3h0m.2-1.3h0m.4-1.6h0m.3 2.3h0m1.4 .9h0m.2-.1h0m.1-4.4h0m.4 .7h0m-10.7 9.5h0m1-.1h0m.2-.3h0m0 .4h0m.7-1.4h0m.7-3h0m.3 1.3h0m.2-.9h0m.5 4.4h0m.1 .8h0m.9-3.9h0m.7-1.4h0m.9 4.7h0m.2-4.3h0m.1-.4h0m.8 .3h0m0 4.5h0m.2 0h0m1.2-3.8h0m.6 3.4h0m.1-3.6h0m.2 3.3h0m.4 .6h0m.6-3.3h0m.5 3.2h0m-10.8 4.4h0m.5-.6h0m.3 .2h0m1.1-1h0m1.8-1.9h0m.3 1.6h0m1.9-.4h0m.6-1.1h0m.4 1.6h0m0 1.7h0m0 .7h0m0-1.7h0m0-.3h0m.2-.3h0m1-1.7h0m.3 2.3h0m.9 1.1h0m.5 1.7h0m.6-2.9h0m.2-.1h0m-9.9 4.9h0m.1 3.9h0m0-4.2h0m.4 3.7h0m.8-3.6h0m1.5 2.3h0m.2 .5h0m.9 .2h0m.4-.7h0m1.2-1.4h0m1.1 3.5h0m.9-2.3h0m.1 1.1h0m.1-1.9h0m.2 .4h0m.7-.2h0m.1 .7h0m1.1-.2h0m.3 1.8h0m.3-.7h0m.2 1.6h0m-9.8 .7h0m.2 2.6h0m.8-2.7h0m.2-.3h0m.3 3.3h0m0 2.1h0m1.1-2.4h0m.8-2.7h0m1.1 4.2h0m0-2.9h0m0-.7h0m.1 2.9h0m.8-3.2h0m1.6 2.5h0m0-.5h0m.2-1.5h0m.6 1h0m.4 3.6h0m.6-2.1h0m1.6 .7h0m.1-.8h0m-9.9 5h0m.2 .7h0m1.6-1.9h0m2.9 1.2h0m.2-.5h0m.2-.7h0m0 2.2h0m.2-1.2h0m.1-.3h0m.3-.5h0m1.1-.9h0m.3 4h0m.3-2.1h0m.6 3.1h0m.9-1.7h0m.1-1.6h0m0-.4h0m.3 3.8h0m.2-1.5h0m.1 .5h0m.3-1.9h0m.2 .6h0m.1-.8h0m0 .2h0m.1-1.7h0m-9.5 5.1h0m.2 3.1h0m.3 2.2h0m.3-3h0m.4-1.6h0m.3-.9h0m1.4 .3h0m.4 .4h0m.2 3.5h0m.1-3.7h0m0-.6h0m.1 2.8h0m.4 1.9h0m.2-4.3h0m.2 5.2h0m.7-3.6h0m.1 3h0m.1 .4h0m0-3.1h0m.1-1.5h0m.6 2.2h0m.2 .7h0m.2 .9h0m.1-2.4h0m.4-1h0m.8-.6h0m1.2-.1h0m.5 4.3h0m.6-1.7h0m.1 2.3h0m-9.9 6.3h0m1-.6h0m.1-2.5h0m0-2h0m.5 3.1h0m.2 1.2h0m.2-3.5h0m.2 .2h0m.1 1.5h0m.4-2.3h0m.4 4h0m.3-2h0m.4-1.4h0m.6-.2h0m.4-.1h0m.4 3.7h0m.2-1.6h0m.2-.3h0m.6 .8h0m0 0h0m.1 .3h0m.8 .2h0m0-2h0m1.3 2.5h0m.7-.8h0m1.2 .1h0m-10.6 2h0m0 0h0m.8 5.7h0m1.8-3.5h0m.9 .6h0m.6-2.1h0m.5 2.8h0m1.4-3.1h0m0 2.8h0m.6-1.3h0m.9-1.6h0m.5 1.6h0m0 1.6h0m.3 1.7h0m.1-4.7h0m.6-.3h0m0 3.4h0m1.5-2.2h0m.1-1.5h0m-9.5 8.5h0m.4-.7h0m.3 3.2h0m.1-3.2h0m.5 3.4h0m1-4.5h0m.1 1.8h0m.3 1.9h0m.2-3.4h0m.3-.1h0m.1 1.2h0m.5 .3h0m.2 1.5h0m1 .5h0m.9 .9h0m.6-4.2h0m.7 4.4h0m0-2h0m.1-3.4h0m.2 2.9h0m.8-2.4h0m.5 5.2h0m.4-.9h0m.9-1.8h0m0 2.1h0m-11 2.5h0m.2-1.6h0m.2 4h0m1 .7h0m.1 .3h0m.3 .9h0m.1-.5h0m.4-1.5h0m.1-1h0m.1 1.7h0m0-3.1h0m.6 .3h0m2.5 2.2h0m.1-1.2h0m.1 .8h0m.3 1.4h0m.1-1.2h0m2.1-2.9h0m.2 3.9h0m.3-3.8h0m.6 .5h0m0 .6h0m.8-1.9h0m.8 3.5h0m0 1.9h0m-10.7 2.5h0m.1 2.1h0m0-.3h0m.1 1.6h0m.1-5.2h0m.1 2.2h0m.1-.5h0m0 .9h0m0-1.2h0m.1 3.2h0m.4 .3h0m.1-3.1h0m1.2 1.4h0m.2-2.6h0m.2-.8h0m.1 1h0m.6-.1h0m.4 1.8h0m.1-.8h0m.5 .9h0m.4 1.6h0m.2-3h0m.3 1.5h0m.6 2h0m.1-1.4h0m.1-.9h0m.1-1h0m.2 2.6h0m0-2.7h0m.1 2.8h0m1.1-2.7h0m2.8 .7h0m.1 1.7h0m.3-3.5h0m-10.7 8.3h0m.3 1.4h0m.4 .5h0m1-1.3h0m.9 2.2h0m1.2-4.6h0m.3 2.7h0m.5-.2h0m.4-1.5h0m.4 1.7h0m1.2-2.1h0m.8 .1h0m0-.4h0m0 2.9h0m.4 .4h0m.2-2.2h0m.1 1.8h0m.7-2.1h0m.7-2.2h0m.7 1.4h0m.6 2h0m.1-1h0m-10.7 4.1h0m.3 1.6h0m.1-.9h0m1.6 4.5h0m.5-2.3h0m.6-1.6h0m1.1 .3h0m.8-1.3h0m.4 4.3h0m.2 .6h0m.3-5.1h0m.6 1.3h0m.8-.5h0m.1 3h0m.7-2.2h0m.7 3.4h0m.4-1.4h0m.7 .4h0m-9.6 1.4h0m3.3 .7h0m3.3-.5h0m3.2 .1h0" stroke="#00009b"/>
<path d="M234.4 237.2h0m1.8 1.7h0m-4.4 7.1h0m.7-1h0m.1 1.1h0m.4-1.9h0m.3 1.2h0m1.1 3h0m.5-1.6h0m.7-1.2h0m.2-.8h0m0 2.8h0m0-1h0m.4-1.1h0m1.9 .3h0m.2 1.8h0m1 .9h0m-8.8 1.4h0m.4 5h0m.4-2h0m.3 1.6h0m.2-3h0m.6 2.9h0m0-1h0m0-1.2h0m.2 2.7h0m.2 .1h0m1.1-3.4h0m.4 2.5h0m.4 .1h0m.6-3.9h0m.2 3.2h0m2.4 1.3h0m0-4.6h0m1.2 4.5h0m.2-.3h0m-9.7 6.4h0m.4-2.4h0m2.5-.5h0m.6-2.6h0m.2 2.2h0m.1-2.1h0m.1 5.3h0m.7-4.7h0m.5 1.3h0m.1 2.6h0m.5 .9h0m0-3.9h0m.6 2.1h0m.1-2.5h0m.1 2.5h0m1.1 1.2h0m.9-3.2h0m0-1.7h0m.5 2.1h0m.5-2h0m-9.9 10.8h0m.2-4.3h0m2.6 3h0m1.4 .4h0m1.7-3.8h0m.4 5h0m0-.7h0m.2-2.7h0m.9 .9h0m.4-2.8h0m.2 3.7h0m.5-2.4h0m.2-.1h0m.8 2.2h0m1.1 2.3h0m.1-.4h0m-11 1.3h0m1.6 3.8h0m1.7-.8h0m.2-3.5h0m.2 1.2h0m1.1-1.4h0m.4 1.4h0m1.1 .8h0m.2-.9h0m.3-.7h0m1 .1h0m0 2.7h0m.3-1.3h0m.4 3h0m.4-3.3h0m.6 1.4h0m1 .9h0m.1-3h0m.1 3.2h0m1 1.6h0m.5-5.7h0m.1 2.9h0m.1-2h0m-11.8 6.5h0m.1 4h0m.3-1.7h0m.2 1.7h0m1-3.6h0m2.3-1.6h0m.5 4.6h0m.9-.9h0m1.4 .3h0m2.6-2.3h0m.8-1.7h0m.4-.5h0m.4 0h0m.1 4.2h0m.1-1.1h0m.2-2.9h0m-11.3 7.6h0m.7 1.3h0m1-2.9h0m0 2.4h0m.2 .3h0m.4-2.8h0m.7 5.5h0m.6-3h0m.1 .4h0m.3 .5h0m.3 .4h0m1.6-.8h0m.4-.9h0m0 3.1h0m.4-.8h0m2.3 .2h0m1.2-.4h0m1.2-3h0m-11.4 6.9h0m.1-2.2h0m1.6 2.7h0m.7 2.5h0m1.1 .6h0m.1-4.9h0m1 4.3h0m.5-4.6h0m.7 2.2h0m0 3.1h0m.6-1.8h0m.4-1h0m.7 2.1h0m.2-2.2h0m1.3 0h0m.7 .3h0m.1-2.7h0m.4-.1h0m.2-.5h0m1.3 4.6h0m.3-3.3h0m-8.7 5.9h0m.8 3.5h0m.1-4.4h0m.7 5.6h0m1-1.7h0m.5-3.7h0m1.6 2.1h0m.8 1h0m0-2.9h0m.3 4.2h0m1.6-.6h0m.1 .3h0m-9 5.3h0m.3-.6h0m.1 1.6h0m0-3.4h0m.5 4.1h0m.5-2.9h0m1.2-.8h0m0 .4h0m2 .9h0m0 2.2h0m.1-4h0m.5 1.7h0m.1 .6h0m.4 .2h0m0 .5h0m4.1 .2h0m.3-3h0m.1 4.1h0m.9-4.2h0m-8.8 10.2h0m.7-.6h0m.5-4.1h0m.1 1.8h0m.3-2h0m.2 4.4h0m.6-4.6h0m0 3.6h0m.2-1.2h0m.2 1.6h0m.3 .5h0m1.2-.5h0m.1-1.3h0m.2-1.6h0m.3-1.4h0m.4 3.5h0m.1 .5h0m2.1-.6h0m.9-1.4h0m.6 .9h0m-10.3 4.7h0m.1 2.7h0m1.3 .5h0m2.4-.8h0m1.2-1.2h0m.2 2.1h0m.1 .1h0m3.2-4.9h0m1.8 5.3h0m0-1.1h0m-9.6 6h0m.3-1.2h0m.7 1.6h0m.5-4.2h0m.5 2.7h0m.1-1.7h0m.1 1.2h0m1.7-1.7h0m1.6 2.2h0m.1 2.2h0m0 .1h0m.3-2.6h0m1-.4h0m.1-.2h0m.6-1.7h0m.1 4.2h0m.1-2.9h0m2.1 2h0m.3-2.7h0m0-1.3h0m.1 4.8h0m.3-3.4h0m-10.2 5h0m1.2 1.1h0m.4-.8h0m.1 2h0m1.9 2.9h0m1.8-5.4h0m3.5 1.3h0m.9 .5h0m.2 3.7h0m0-.9h0m-7.2 4.1h0m.3 .5h0m.5-2.2h0m.6 4.2h0m.9-1.3h0m.3-2.2h0m.4-.5h0m.1-.5h0m1.6 3.1h0m0-1.9h0m1.7-2.2h0m-8 7.7h0m2.6-1.3h0m1.3 1.9h0m.3-.6h0m.1-.8h0m1 1.1h0m.5 2.4h0m.1 .5h0m2.2 0h0m1.5-.5h0m-8.1 4.9h0m1.4 1h0m.1-2.6h0m.4 .4h0m2.1-1.1h0m0 3.4h0m.6-4.2h0m.7 3.4h0m.9-.6h0m2.4-2.2h0m.9 4h0m.4 1h0m-11.1 3.1h0m.3 1.3h0m1.3-.1h0m.6-2.2h0m1.1 3.2h0m1.7-3.5h0m1.1-1.2h0m1.1 2.1h0m.3-2h0m1.2 4.4h0m.4-.3h0m.1-4.4h0m0 3.8h0m0-.6h0m-9.3 3.3h0m1.1 3.2h0m0-3.6h0m.3 4.3h0m1.9 1.2h0m.8-3.7h0m.2-1.6h0m2.6-.6h0m.3 5.4h0m.1-1.7h0m1.1-2.8h0m1.2 4h0m1.3-4.1h0m.2 1.8h0m-10.2 8.5h0m.2 .3h0m2.1 0h0m.1-5.1h0m.4 2.8h0m.4 2.8h0m.6-.5h0m0-5.1h0m.5 4h0m1.2-2.5h0m0 3.1h0m.5-.7h0m.2-3.8h0m.2 5h0m.2-4.9h0m.2 .9h0m.7 1.6h0m.7 1.1h0m.4-.7h0m.9-1.9h0m.4-1.4h0m.7 4.2h0m-10.4 6.8h0m.1-1.5h0m.1-2.1h0m.3 4h0m3.3-2.9h0m2.3-.9h0m.3 4.3h0m0-3.6h0m.5-1.7h0m.1 1.3h0m.2-.4h0m.2 .8h0m.6 2.1h0m.1 1.5h0m0-.5h0m1.2-1.7h0m1 .2h0m-10 6.1h0m.6-2.9h0m.5 .3h0m.7 2.2h0m2.6 1.1h0m.1 .3h0m1.6-1.1h0m.1-.1h0m.1-1.9h0m1.3-1.5h0m.7 1.7h0m1.4 3.2h0" stroke="#000080"/>
<path d="M232.5 244.6h0m-.9 9.7h0m.2 .6h0m6.1 16.3h0m3-2h0m-8.4 4.7h0m3.7 1.5h0m1.8 .6h0m-2.8 7.9h0m5.6-1.2h0m-6.7 2.8h0m-2.3 7.8h0m9.2 6.4h0m-3.1 4.1h0m1.6 .9h0m.4 1.2h0m-6.1 8.5h0m2.2-3.4h0m6 1.3h0m-6 4.5h0m5 2.1h0m2.2-1h0m-4.8 7.5h0m-1.3 9.4h0m3.4 0h0m1.1 6.6h0m-5.5 6.4h0m.7-.9h0m5.7-1.1h0m1.2 7.8h0m1.1 12.6h0" stroke="#0000d6"/>
<path d="M232.6 248.1h0m7-.4h0m-9.3 9.3h0m2.2 4.8h0m3.1 22.6h0m2.5-4.8h0m-4.9 15.2h0m.5 2.9h0m7.6 .5h0m-7.1 4.9h0m4.2 1.2h0m-4.1 6.5h0m.5 17.2h0m2.2 3h0m1.7-3.8h0m1.7 10.8h0m2.9-1.5h0m2.3 4.8h0m-.4 7.9h0m-4 4.5h0m2.9 .5h0m.4-1.7h0m-.3 6.1h0m1.8 1.7h0m-10.9 4.5h0m1.1 9.3h0m8.6-3.7h0" stroke="#0000b6"/>
<path d="M239 249.1h0m1.1 126.3h0" stroke="#0000f1"/></g>
<path d="M206.5 138.2 L230 155.5 L275.7 175.8 L335 180.3 L380 178 L425.4 183.2 L497 154.4 L580 90.8" fill="none" stroke="#0000ff" stroke-width="5" stroke-linejoin="round" stroke-linecap="square"/>
<path d="M273.4 282.5 L335 299.8 L380 309.8 L425.6 292.6 L580 154.7" fill="none" stroke="#008000" stroke-width="5" stroke-linejoin="round" stroke-linecap="square"/>
<path d="M170.5 226.3 L207.8 271.4 L275.7 316.8 L335 318.5 L380 337 L425.6 327.6 L497 273.6 L530 245 L580 196.6" fill="none" stroke="#ff0000" stroke-width="5" stroke-linejoin="round" stroke-linecap="square"/>
<path d="M230.3 73 L275.7 108.5 L309.5 131.5 L335 145.5 L380 150.8 L425.4 147.3 L471.7 129.5 L531 102.5" fill="none" stroke="#0000ff" stroke-width="3" stroke-linejoin="round" stroke-linecap="butt" stroke-dasharray="6 6"/>
<path d="M231 214.7 L270 231.5 L280 237.5 L292 248 L300 256.5 L310 263 L322 267.5 L335 270 L355 269.1 L380.3 261.7 L420 243.7 L440 230.2 L526.5 172.7" fill="none" stroke="#008000" stroke-width="3" stroke-linejoin="round" stroke-linecap="butt" stroke-dasharray="6 6"/>
<path d="M275.2 259.8 L288 267 L300 276 L310 282 L325 289 L340 292.5 L357 293 L380.3 290.2 L420 279.7 L440 269.6 L526.5 216.6" fill="none" stroke="#ff0000" stroke-width="3" stroke-linejoin="round" stroke-linecap="butt" stroke-dasharray="6 6"/>
<path d="M92.1 201.9 L126 204.5 L170.5 207.4 L229.6 191 L275.7 181.5 L305 175.5 L320.8 171 L380.3 143.8 L425.4 123.2 L537.8 -2" fill="none" stroke="#0000ff" stroke-width="3.0" stroke-linejoin="round" stroke-linecap="butt" stroke-dasharray="1.4 2.65"/>
<path d="M261.5 253 L275.7 254 L320.8 253.8 L380 221.8 L425.4 196.5 L559.7 0" fill="none" stroke="#008000" stroke-width="3.0" stroke-linejoin="round" stroke-linecap="butt" stroke-dasharray="1.4 2.65"/>
<path d="M66.4 264.2 L126 278.6 L171 277 L229.6 280 L275.7 280.2 L320.8 280" fill="none" stroke="#ff0000" stroke-width="3.0" stroke-linejoin="round" stroke-linecap="butt" stroke-dasharray="1.4 2.65"/>
<path d="M80.9 187.5 L81.9 191.5 L83.2 199 L85.3 208.5 L88.6 219.9 L93.3 232.8 L99.1 246.9 L105 257.5 L110.9 268 L115.6 275.1 L123.7 287.5 L137.8 299.8 L153.6 310.2 L168 316 L183 318.8 L198.8 319.6 L218 318.3 L237.5 315 L265 307 L290 300.3 L300 297.6 L345 279.8 L420 248 L440 239.7 L529.7 199.2 L575.4 178.1 L580 176" fill="none" stroke="#ff8c00" stroke-width="3.3" stroke-linejoin="round" stroke-linecap="square"/>
</g>
<rect x="80.9" y="11.7" width="494.20000000000005" height="364.5" fill="none" stroke="#000" stroke-width="1.2"/>
<path d="M80.9 376.2v-2M80.9 11.7v2M92.8 376.2v-2M92.8 11.7v2M102.8 376.2v-2M102.8 11.7v2M111.5 376.2v-2M111.5 11.7v2M119.2 376.2v-2M119.2 11.7v2M126 376.2v-4M126 11.7v4M171.1 376.2v-2M171.1 11.7v2M197.4 376.2v-2M197.4 11.7v2M216.1 376.2v-2M216.1 11.7v2M230.6 376.2v-2M230.6 11.7v2M242.5 376.2v-2M242.5 11.7v2M252.5 376.2v-2M252.5 11.7v2M261.2 376.2v-2M261.2 11.7v2M268.9 376.2v-2M268.9 11.7v2M275.7 376.2v-4M275.7 11.7v4M320.8 376.2v-2M320.8 11.7v2M347.1 376.2v-2M347.1 11.7v2M365.8 376.2v-2M365.8 11.7v2M380.3 376.2v-2M380.3 11.7v2M392.2 376.2v-2M392.2 11.7v2M402.2 376.2v-2M402.2 11.7v2M410.9 376.2v-2M410.9 11.7v2M418.6 376.2v-2M418.6 11.7v2M425.4 376.2v-4M425.4 11.7v4M470.5 376.2v-2M470.5 11.7v2M496.8 376.2v-2M496.8 11.7v2M515.5 376.2v-2M515.5 11.7v2M530 376.2v-2M530 11.7v2M541.9 376.2v-2M541.9 11.7v2M551.9 376.2v-2M551.9 11.7v2M560.6 376.2v-2M560.6 11.7v2M568.3 376.2v-2M568.3 11.7v2M80.9 375.9h2M575.1 375.9h-2M80.9 370.5h2M575.1 370.5h-2M80.9 365.9h2M575.1 365.9h-2M80.9 361.9h2M575.1 361.9h-2M80.9 358.4h2M575.1 358.4h-2M80.9 355.2h4M575.1 355.2h-4M80.9 334.6h2M575.1 334.6h-2M80.9 322.5h2M575.1 322.5h-2M80.9 313.9h2M575.1 313.9h-2M80.9 307.2h2M575.1 307.2h-2M80.9 301.8h2M575.1 301.8h-2M80.9 297.2h2M575.1 297.2h-2M80.9 293.2h2M575.1 293.2h-2M80.9 289.7h2M575.1 289.7h-2M80.9 286.5h4M575.1 286.5h-4M80.9 265.9h2M575.1 265.9h-2M80.9 253.8h2M575.1 253.8h-2M80.9 245.2h2M575.1 245.2h-2M80.9 238.5h2M575.1 238.5h-2M80.9 233.1h2M575.1 233.1h-2M80.9 228.5h2M575.1 228.5h-2M80.9 224.5h2M575.1 224.5h-2M80.9 221h2M575.1 221h-2M80.9 217.8h4M575.1 217.8h-4M80.9 197.1h2M575.1 197.1h-2M80.9 185h2M575.1 185h-2M80.9 176.5h2M575.1 176.5h-2M80.9 169.8h2M575.1 169.8h-2M80.9 164.4h2M575.1 164.4h-2M80.9 159.8h2M575.1 159.8h-2M80.9 155.8h2M575.1 155.8h-2M80.9 152.3h2M575.1 152.3h-2M80.9 149.1h4M575.1 149.1h-4M80.9 128.4h2M575.1 128.4h-2M80.9 116.3h2M575.1 116.3h-2M80.9 107.8h2M575.1 107.8h-2M80.9 101.1h2M575.1 101.1h-2M80.9 95.7h2M575.1 95.7h-2M80.9 91.1h2M575.1 91.1h-2M80.9 87.1h2M575.1 87.1h-2M80.9 83.6h2M575.1 83.6h-2M80.9 80.4h4M575.1 80.4h-4M80.9 59.7h2M575.1 59.7h-2M80.9 47.6h2M575.1 47.6h-2M80.9 39h2M575.1 39h-2M80.9 32.4h2M575.1 32.4h-2M80.9 26.9h2M575.1 26.9h-2M80.9 22.3h2M575.1 22.3h-2M80.9 18.4h2M575.1 18.4h-2M80.9 14.8h2M575.1 14.8h-2M80.9 11.7h4M575.1 11.7h-4" stroke="#000" stroke-width="0.9" fill="none"/>
<g transform="matrix(1.0703 0 0 1.0038 31.76 17.25)"><text style="font-family:'Liberation Sans'" font-size="18.4">10</text></g>
<g transform="matrix(1.1086 0 0 1.0270 54.45 9.34)"><text style="font-family:'Liberation Sans'" font-size="12.8">-36</text></g>
<g transform="matrix(1.0703 0 0 1.0038 31.76 85.96)"><text style="font-family:'Liberation Sans'" font-size="18.4">10</text></g>
<g transform="matrix(1.1086 0 0 1.0270 54.45 78.05)"><text style="font-family:'Liberation Sans'" font-size="12.8">-37</text></g>
<g transform="matrix(1.0703 0 0 1.0038 31.76 154.67)"><text style="font-family:'Liberation Sans'" font-size="18.4">10</text></g>
<g transform="matrix(1.1086 0 0 1.0270 54.45 146.76)"><text style="font-family:'Liberation Sans'" font-size="12.8">-38</text></g>
<g transform="matrix(1.0703 0 0 1.0038 31.76 223.38)"><text style="font-family:'Liberation Sans'" font-size="18.4">10</text></g>
<g transform="matrix(1.1086 0 0 1.0270 54.45 215.47)"><text style="font-family:'Liberation Sans'" font-size="12.8">-39</text></g>
<g transform="matrix(1.0703 0 0 1.0038 31.76 292.09)"><text style="font-family:'Liberation Sans'" font-size="18.4">10</text></g>
<g transform="matrix(1.1086 0 0 1.0270 54.45 284.18)"><text style="font-family:'Liberation Sans'" font-size="12.8">-40</text></g>
<g transform="matrix(1.0703 0 0 1.0038 31.76 360.80)"><text style="font-family:'Liberation Sans'" font-size="18.4">10</text></g>
<g transform="matrix(1.1086 0 0 1.0270 54.45 352.89)"><text style="font-family:'Liberation Sans'" font-size="12.8">-41</text></g>
<g transform="matrix(1.0811 0 0 1.0038 109.65 395.05)"><text style="font-family:'Liberation Sans'" font-size="18.4">10</text></g>
<g transform="matrix(1.1000 0 0 0.9667 132.45 387.10)"><text style="font-family:'Liberation Sans'" font-size="12.8">1</text></g>
<g transform="matrix(1.0811 0 0 1.0038 259.35 395.05)"><text style="font-family:'Liberation Sans'" font-size="18.4">10</text></g>
<g transform="matrix(1.1000 0 0 0.9667 282.15 387.10)"><text style="font-family:'Liberation Sans'" font-size="12.8">2</text></g>
<g transform="matrix(1.0811 0 0 1.0038 409.05 395.05)"><text style="font-family:'Liberation Sans'" font-size="18.4">10</text></g>
<g transform="matrix(1.1000 0 0 0.9667 431.85 387.10)"><text style="font-family:'Liberation Sans'" font-size="12.8">3</text></g>
<g transform="matrix(1.0811 0 0 1.0038 558.75 395.05)"><text style="font-family:'Liberation Sans'" font-size="18.4">10</text></g>
<g transform="matrix(1.1000 0 0 0.9667 581.55 387.10)"><text style="font-family:'Liberation Sans'" font-size="12.8">4</text></g>
<g transform="matrix(1.0909 0 0 0.9375 579.08 14.77)"><text style="font-family:'Liberation Sans'" font-size="11">10</text></g>
<g transform="matrix(1.0133 0 0 1.0364 593.05 10.60)"><text style="font-family:'Liberation Sans'" font-size="7.8">0</text></g>
<g transform="matrix(1.0909 0 0 0.9375 579.08 83.48)"><text style="font-family:'Liberation Sans'" font-size="11">10</text></g>
<g transform="matrix(1.0133 0 0 1.0364 593.05 79.31)"><text style="font-family:'Liberation Sans'" font-size="7.8">-1</text></g>
<g transform="matrix(1.0909 0 0 0.9375 579.08 152.19)"><text style="font-family:'Liberation Sans'" font-size="11">10</text></g>
<g transform="matrix(1.0133 0 0 1.0364 593.05 148.02)"><text style="font-family:'Liberation Sans'" font-size="7.8">-2</text></g>
<g transform="matrix(1.0909 0 0 0.9375 579.08 220.90)"><text style="font-family:'Liberation Sans'" font-size="11">10</text></g>
<g transform="matrix(1.0133 0 0 1.0364 593.05 216.73)"><text style="font-family:'Liberation Sans'" font-size="7.8">-3</text></g>
<g transform="matrix(1.0909 0 0 0.9375 579.08 289.61)"><text style="font-family:'Liberation Sans'" font-size="11">10</text></g>
<g transform="matrix(1.0133 0 0 1.0364 593.05 285.44)"><text style="font-family:'Liberation Sans'" font-size="7.8">-4</text></g>
<g transform="matrix(1.0909 0 0 0.9375 579.08 358.32)"><text style="font-family:'Liberation Sans'" font-size="11">10</text></g>
<g transform="matrix(1.0133 0 0 1.0364 593.05 354.15)"><text style="font-family:'Liberation Sans'" font-size="7.8">-5</text></g>
<g transform="translate(606.80 203.90) rotate(-90) scale(1.2438 0.9538) translate(-0.75 7.50)"><text style="font-family:'Liberation Sans'" font-size="10.4">[pb]</text></g>
<rect x="626.5" y="11.5" width="18.5" height="365" fill="url(#jet)" stroke="#111" stroke-width="1"/>
<g transform="matrix(1.0727 0 0 1.0468 648.90 16.34)"><text style="font-family:'Liberation Sans'" font-size="16">Hard</text></g>
<g transform="matrix(1.0727 0 0 1.0468 648.90 380.64)"><text style="font-family:'Liberation Sans'" font-size="16">Soft</text></g>
<g transform="matrix(1.2667 0 0 1.0200 279.95 420.00)"><text style="font-family:'Liberation Serif'" font-style="italic" font-size="21">m</text></g>
<g transform="matrix(1.1515 0 0 1.2780 300.14 425.35)"><text style="font-family:'Liberation Serif'" font-style="italic" font-size="15">χ</text></g>
<g transform="matrix(1.1503 0 0 0.9920 315.27 417.58)"><text style="font-family:'Liberation Sans'" font-size="20">[GeV]</text></g>
<g transform="translate(9.20 244.90) rotate(-90) scale(1.1200 0.8667) translate(-0.50 10.25)"><text style="font-family:'Liberation Serif'" font-style="italic" font-size="20">σ</text></g>
<g transform="translate(0.30 232.30) rotate(-90) scale(1.0727 1.0842) translate(-1.00 9.25)"><text style="font-family:'Liberation Serif'" font-size="14">SD</text></g>
<g transform="translate(16.90 233.70) rotate(-90) scale(1.1404 0.9333) translate(1.25 6.75)"><text style="font-family:'Liberation Serif'" font-style="italic" font-size="14">χ−p</text></g>
<g transform="translate(2.30 197.70) rotate(-90) scale(1.2033 0.9403) translate(-1.50 15.00)"><text style="font-family:'Liberation Sans'" font-size="20.5">[cm</text></g>
<g transform="translate(1.50 158.40) rotate(-90) scale(1.0560 0.9641) translate(-0.75 9.75)"><text style="font-family:'Liberation Sans'" font-size="14">2</text></g>
<g transform="translate(2.30 148.90) rotate(-90) scale(1.2000 0.9403) translate(-0.00 15.00)"><text style="font-family:'Liberation Sans'" font-size="20.5">]</text></g>
<path d="M89 24h23" stroke="#000" stroke-width="5"/>
<path d="M92.1 38.4h18.5" stroke="#000" stroke-width="3" stroke-dasharray="1.3 2.6"/>
<path d="M92.2 52.7h18" stroke="#000" stroke-width="3" stroke-dasharray="6 5.8"/>
<g transform="matrix(1.1431 0 0 0.9956 122.56 28.01)"><text style="font-family:'Liberation Sans'" font-size="12.2">IceCube (2011-2014)</text></g>
<g transform="matrix(1.1302 0 0 1.0667 122.63 42.73)"><text style="font-family:'Liberation Sans'" font-size="12.2">Super-K (1996-2012)</text></g>
<g transform="matrix(1.1387 0 0 0.9778 123.20 56.26)"><text style="font-family:'Liberation Sans'" font-size="12.2">Antares (2007-2012)</text></g>
<path d="M489 333.4h23" stroke="#0000ff" stroke-width="5"/>
<path d="M489 347.8h23" stroke="#008000" stroke-width="5"/>
<path d="M489 361.8h23" stroke="#ff0000" stroke-width="5"/>
<g transform="matrix(0.8000 0 0 1.0000 526.40 336.65)"><text style="font-family:'Liberation Serif'" font-style="italic" font-size="12.5">b</text></g>
<g transform="matrix(0.9091 0 0 1.0000 532.15 336.65)"><text style="font-family:'Liberation Serif'" font-style="italic" font-size="12.5">b</text></g>
<g transform="matrix(1.1238 0 0 0.9529 526.16 350.96)"><text style="font-family:'Liberation Serif'" font-style="italic" font-size="12.5">W</text></g>
<g transform="matrix(1.1714 0 0 0.9529 546.72 350.96)"><text style="font-family:'Liberation Serif'" font-style="italic" font-size="12.5">W</text></g>
<g transform="matrix(1.2909 0 0 0.8276 526.68 365.59)"><text style="font-family:'Liberation Serif'" font-style="italic" font-size="15">τ</text></g>
<g transform="matrix(1.1818 0 0 0.8276 540.20 365.59)"><text style="font-family:'Liberation Serif'" font-style="italic" font-size="15">τ</text></g>
<path d="M533.3 326.6h4.3" stroke="#000" stroke-width="0.8"/>
<path d="M539.2 345.2h5.8M542.1 342.5v5.4M560.2 344.4h5.8" stroke="#000" stroke-width="0.75" fill="none"/>
<path d="M534.4 359.9h5.4M537.1 357.4v5M547.2 359.6h5" stroke="#000" stroke-width="0.75" fill="none"/>
<g transform="matrix(1.0692 0 0 1.0648 143.26 343.14)"><text style="font-family:'Liberation Sans'" font-size="19.5">pMSSM</text></g>
<g transform="matrix(1.1494 0 0 1.0791 156.33 366.73)"><text style="font-family:'Liberation Sans'" font-size="19.5">scan</text></g>
<g fill="#ff8c00" style="stroke:#ff8c00" font-size="16.1"><text style="stroke:#ff8c00" transform="translate(123.0,243.5) rotate(68.3)" text-anchor="middle" textLength="63.5" lengthAdjust="spacingAndGlyphs">PICO-60</text><text style="stroke:#ff8c00" transform="translate(104.8,244.3) rotate(69.5)" text-anchor="middle" textLength="49.5" lengthAdjust="spacingAndGlyphs">(2017)</text></g>
</svg></body></html>
